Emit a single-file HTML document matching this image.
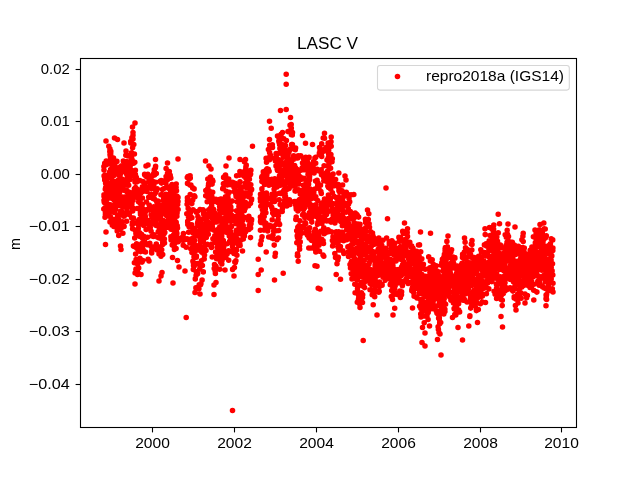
<!DOCTYPE html>
<html><head><meta charset="utf-8"><style>html,body{margin:0;padding:0;background:#fff;overflow:hidden}svg{display:block;will-change:transform}text{font-family:"Liberation Sans",sans-serif;fill:#000}</style></head><body><svg width="640" height="480" viewBox="0 0 640 480" font-family="Liberation Sans, sans-serif"><defs><clipPath id="c"><rect x="80" y="57" width="497" height="371"/></clipPath></defs><rect x="0" y="0" width="640" height="480" fill="#fff"/><g clip-path="url(#c)"><path fill="none" stroke="#f00" stroke-width="5.56" stroke-linecap="round" d="M222.9 205.4h.01M223.3 240.5h.01M146.1 229.5h.01M111.8 177.9h.01M160.5 214.5h.01M164.2 233.5h.01M110.5 157.5h.01M111.0 161.6h.01M251.6 189.4h.01M200.3 239.9h.01M138.5 246.2h.01M168.1 194.8h.01M247.9 218.0h.01M236.6 191.5h.01M228.7 205.0h.01M161.8 239.3h.01M176.7 209.5h.01M203.9 231.3h.01M112.8 184.2h.01M143.9 214.3h.01M233.9 186.9h.01M113.3 166.0h.01M204.3 247.1h.01M232.5 246.6h.01M137.4 271.7h.01M236.3 238.4h.01M232.8 216.9h.01M106.5 178.0h.01M208.4 185.7h.01M104.0 170.0h.01M178.2 241.7h.01M168.4 205.0h.01M133.8 197.0h.01M151.9 216.8h.01M223.1 188.0h.01M150.6 224.6h.01M125.8 155.3h.01M207.1 222.8h.01M170.1 199.6h.01M222.0 260.4h.01M138.6 225.0h.01M151.1 231.3h.01M222.1 212.8h.01M138.7 268.1h.01M105.9 189.8h.01M241.8 207.1h.01M116.5 204.2h.01M228.8 204.5h.01M158.2 231.7h.01M244.5 195.8h.01M162.9 220.2h.01M242.3 221.1h.01M139.3 196.6h.01M213.5 209.4h.01M203.5 213.2h.01M205.0 229.3h.01M172.4 240.6h.01M136.6 243.8h.01M198.6 236.2h.01M119.6 205.5h.01M206.2 229.0h.01M197.8 225.6h.01M159.5 212.8h.01M221.9 231.3h.01M132.5 196.2h.01M161.5 238.2h.01M221.8 263.9h.01M160.1 181.3h.01M209.3 191.1h.01M194.4 229.4h.01M243.0 225.8h.01M250.5 203.3h.01M210.8 207.8h.01M223.4 183.8h.01M126.4 173.7h.01M209.2 200.8h.01M229.2 210.7h.01M163.1 226.8h.01M174.7 243.4h.01M245.6 231.8h.01M150.7 194.4h.01M163.3 200.4h.01M103.9 166.5h.01M165.9 182.9h.01M197.2 263.5h.01M242.1 215.9h.01M240.4 201.8h.01M152.2 216.9h.01M250.1 194.0h.01M131.5 217.7h.01M225.6 175.5h.01M127.0 190.6h.01M163.7 196.4h.01M114.6 208.5h.01M230.7 231.6h.01M226.4 231.3h.01M124.5 199.8h.01M181.8 239.9h.01M142.0 262.1h.01M176.5 190.8h.01M119.5 192.5h.01M231.7 215.2h.01M145.0 214.0h.01M169.9 227.8h.01M112.3 225.3h.01M104.2 201.9h.01M132.7 211.0h.01M154.3 209.4h.01M241.1 192.0h.01M235.4 187.0h.01M174.9 211.5h.01M171.1 240.1h.01M202.5 224.3h.01M230.8 207.0h.01M153.7 213.4h.01M221.2 243.0h.01M162.8 229.0h.01M191.7 224.7h.01M212.9 223.1h.01M178.0 197.4h.01M206.0 250.5h.01M206.9 214.3h.01M104.6 208.2h.01M109.6 207.6h.01M125.8 206.0h.01M135.4 174.6h.01M133.8 144.6h.01M111.0 177.6h.01M135.9 269.5h.01M192.7 187.9h.01M234.9 184.4h.01M155.5 182.3h.01M158.0 201.0h.01M165.4 211.3h.01M220.0 199.4h.01M243.0 209.3h.01M159.4 226.8h.01M208.3 234.2h.01M154.3 194.4h.01M225.7 257.4h.01M137.9 221.1h.01M232.6 239.4h.01M211.1 201.2h.01M182.9 237.1h.01M150.5 177.4h.01M176.9 216.2h.01M111.2 189.5h.01M110.1 155.3h.01M174.4 208.1h.01M227.0 232.4h.01M106.8 176.4h.01M176.4 234.4h.01M192.2 243.2h.01M211.7 205.1h.01M187.1 204.2h.01M176.5 232.0h.01M194.8 232.3h.01M140.5 213.1h.01M203.3 271.9h.01M132.1 174.2h.01M250.3 203.5h.01M214.2 268.5h.01M245.1 208.5h.01M147.3 221.6h.01M169.4 215.6h.01M142.5 216.5h.01M110.7 152.8h.01M106.2 184.6h.01M140.3 203.4h.01M231.2 210.2h.01M128.0 202.1h.01M205.8 190.6h.01M140.7 203.8h.01M113.5 158.0h.01M132.3 207.6h.01M204.1 248.6h.01M178.0 201.5h.01M170.8 194.0h.01M144.4 220.7h.01M176.0 190.7h.01M240.2 199.0h.01M133.6 163.3h.01M212.2 257.0h.01M140.9 192.9h.01M132.4 197.2h.01M151.7 251.0h.01M117.5 226.8h.01M242.2 217.0h.01M157.8 216.7h.01M129.8 199.1h.01M103.8 209.1h.01M112.7 181.1h.01M135.5 223.0h.01M165.6 206.6h.01M192.8 230.6h.01M248.9 229.4h.01M235.5 253.3h.01M139.6 232.8h.01M194.3 195.9h.01M240.1 187.3h.01M118.8 199.7h.01M230.1 203.2h.01M162.4 189.6h.01M151.5 188.6h.01M196.3 212.2h.01M119.2 229.8h.01M216.2 201.6h.01M225.5 175.0h.01M175.2 248.1h.01M161.2 180.6h.01M244.0 176.3h.01M159.2 238.0h.01M233.9 237.2h.01M165.7 208.2h.01M159.0 253.9h.01M157.2 188.7h.01M112.7 195.6h.01M144.8 242.1h.01M137.7 264.3h.01M113.0 160.9h.01M169.2 187.1h.01M107.5 176.8h.01M126.8 164.2h.01M239.7 175.1h.01M123.5 204.8h.01M159.0 208.1h.01M244.4 196.1h.01M120.5 214.8h.01M164.4 239.1h.01M222.3 249.1h.01M106.6 195.0h.01M113.8 223.0h.01M241.4 187.4h.01M205.0 249.3h.01M142.4 186.9h.01M174.8 232.9h.01M140.6 251.6h.01M235.8 194.3h.01M244.3 210.7h.01M114.3 225.0h.01M131.0 175.8h.01M163.6 197.2h.01M213.4 220.7h.01M209.3 229.3h.01M131.9 204.0h.01M152.9 209.9h.01M166.7 221.7h.01M160.9 194.8h.01M204.7 236.4h.01M220.4 240.3h.01M153.4 236.5h.01M169.1 196.4h.01M113.7 197.9h.01M158.0 203.8h.01M243.9 205.2h.01M178.1 209.5h.01M193.4 263.0h.01M187.7 222.6h.01M222.8 221.7h.01M142.2 222.4h.01M150.6 183.4h.01M235.0 183.3h.01M177.7 204.6h.01M245.8 178.0h.01M124.3 200.1h.01M219.6 206.3h.01M173.8 246.3h.01M173.9 223.3h.01M234.1 191.6h.01M123.1 207.2h.01M140.7 198.9h.01M154.5 175.0h.01M224.7 201.6h.01M162.7 254.5h.01M219.8 226.7h.01M105.8 183.7h.01M251.6 199.1h.01M245.1 192.7h.01M204.2 258.9h.01M132.9 200.4h.01M201.0 234.9h.01M131.9 159.0h.01M159.0 246.9h.01M109.0 186.8h.01M114.2 212.5h.01M127.1 166.3h.01M130.7 198.6h.01M227.8 220.7h.01M139.9 245.0h.01M225.9 208.0h.01M104.7 178.5h.01M112.3 169.3h.01M112.8 189.6h.01M241.6 234.2h.01M224.7 177.0h.01M106.1 181.8h.01M241.6 212.0h.01M137.3 189.3h.01M142.9 181.6h.01M190.2 216.3h.01M134.1 191.3h.01M248.0 220.1h.01M158.0 225.1h.01M188.3 201.5h.01M188.5 217.0h.01M145.4 223.5h.01M212.5 200.8h.01M250.6 228.1h.01M191.9 252.5h.01M116.2 197.6h.01M223.3 201.4h.01M202.4 248.4h.01M176.2 206.6h.01M200.6 219.3h.01M142.4 198.1h.01M148.7 197.2h.01M113.9 175.4h.01M190.8 248.7h.01M130.8 143.1h.01M141.3 218.4h.01M236.9 230.9h.01M190.8 218.3h.01M139.9 258.2h.01M207.2 201.8h.01M251.2 190.3h.01M236.6 210.7h.01M153.0 181.6h.01M190.0 185.1h.01M190.3 178.1h.01M116.9 161.4h.01M206.3 237.4h.01M212.9 181.2h.01M115.2 189.0h.01M135.2 179.1h.01M249.9 191.0h.01M148.1 259.2h.01M141.5 234.3h.01M114.4 211.8h.01M150.0 197.1h.01M109.6 174.1h.01M146.5 202.0h.01M141.7 261.6h.01M126.6 221.3h.01M220.9 256.2h.01M246.1 183.3h.01M239.2 226.5h.01M169.0 174.5h.01M113.6 165.5h.01M155.4 167.8h.01M160.0 252.4h.01M211.9 218.0h.01M213.7 230.1h.01M236.4 230.4h.01M173.2 236.0h.01M139.1 194.4h.01M238.6 231.6h.01M234.6 220.2h.01M122.5 187.8h.01M135.1 273.0h.01M201.4 260.7h.01M225.2 226.3h.01M245.8 168.3h.01M106.9 197.3h.01M131.8 207.3h.01M166.4 202.6h.01M218.9 228.5h.01M139.2 219.5h.01M200.0 209.6h.01M189.9 242.9h.01M243.7 196.8h.01M131.9 137.9h.01M122.2 179.4h.01M156.1 220.9h.01M152.0 224.2h.01M170.8 178.1h.01M129.2 213.1h.01M208.3 193.0h.01M225.5 252.4h.01M104.7 175.4h.01M238.4 245.1h.01M117.2 171.9h.01M149.1 225.2h.01M175.7 203.7h.01M166.5 215.6h.01M135.6 254.1h.01M211.7 207.4h.01M227.9 194.7h.01M137.4 197.6h.01M128.2 199.3h.01M125.8 201.0h.01M242.8 231.4h.01M229.7 241.3h.01M227.3 185.0h.01M164.7 197.3h.01M220.2 242.7h.01M161.7 249.7h.01M171.5 199.5h.01M119.5 199.2h.01M109.3 183.1h.01M203.0 209.8h.01M132.4 137.6h.01M245.3 202.4h.01M187.4 197.7h.01M189.1 177.7h.01M236.1 216.2h.01M147.8 187.1h.01M105.4 180.7h.01M136.3 190.1h.01M171.5 220.3h.01M126.3 185.0h.01M145.3 216.5h.01M212.9 238.7h.01M159.5 214.1h.01M154.3 221.0h.01M138.3 251.1h.01M251.0 223.7h.01M128.8 174.1h.01M228.6 250.8h.01M218.4 232.0h.01M192.7 199.9h.01M119.0 221.5h.01M187.9 176.6h.01M250.1 185.1h.01M211.6 193.5h.01M172.8 200.1h.01M169.3 171.5h.01M232.5 182.2h.01M104.7 180.1h.01M133.4 218.0h.01M245.4 183.0h.01M200.5 219.7h.01M226.2 191.3h.01M109.9 148.9h.01M197.0 231.5h.01M116.9 167.7h.01M174.9 241.3h.01M243.2 225.6h.01M113.0 193.9h.01M110.6 207.2h.01M119.0 202.5h.01M235.9 260.7h.01M126.9 191.8h.01M228.7 179.0h.01M136.6 181.9h.01M216.8 255.7h.01M121.2 228.1h.01M174.4 249.4h.01M232.0 238.1h.01M156.3 244.0h.01M221.7 236.4h.01M171.0 237.5h.01M243.3 239.0h.01M163.0 212.6h.01M225.5 196.7h.01M115.0 190.6h.01M153.9 206.8h.01M125.3 170.1h.01M163.5 188.7h.01M163.7 241.5h.01M139.4 197.6h.01M165.8 194.4h.01M204.6 226.0h.01M189.2 179.0h.01M139.8 180.6h.01M209.0 214.5h.01M208.6 183.7h.01M166.2 221.2h.01M171.7 227.1h.01M129.4 168.9h.01M227.3 217.7h.01M156.5 210.9h.01M147.1 244.7h.01M241.2 193.9h.01M149.0 244.7h.01M133.1 208.3h.01M160.4 216.9h.01M194.6 240.7h.01M162.7 244.5h.01M107.2 212.7h.01M240.9 230.3h.01M172.0 196.4h.01M170.2 175.4h.01M169.9 209.0h.01M144.6 174.4h.01M224.3 256.8h.01M170.8 206.3h.01M117.9 189.0h.01M155.6 166.3h.01M175.5 217.3h.01M157.0 210.1h.01M118.9 205.1h.01M235.3 262.4h.01M126.1 204.9h.01M211.6 229.0h.01M166.6 198.1h.01M177.1 212.8h.01M204.0 234.7h.01M106.3 216.0h.01M176.2 222.4h.01M171.7 188.8h.01M167.2 187.6h.01M104.0 200.4h.01M105.4 214.2h.01M176.3 205.8h.01M171.2 189.8h.01M153.3 174.5h.01M121.0 178.6h.01M157.6 237.2h.01M203.3 242.1h.01M225.0 213.5h.01M216.9 252.0h.01M104.0 196.3h.01M153.9 184.5h.01M176.2 184.0h.01M224.2 176.8h.01M187.3 177.6h.01M222.4 226.8h.01M205.7 195.7h.01M114.5 204.8h.01M248.9 175.6h.01M193.1 245.2h.01M142.1 207.8h.01M237.4 239.6h.01M251.5 220.6h.01M154.5 216.6h.01M176.1 248.6h.01M113.1 211.0h.01M199.0 250.0h.01M138.3 228.6h.01M226.5 216.7h.01M241.2 188.1h.01M225.1 231.7h.01M118.7 235.5h.01M138.9 191.1h.01M229.3 236.1h.01M108.5 196.2h.01M123.1 188.8h.01M239.8 243.7h.01M223.7 183.5h.01M141.5 206.0h.01M153.9 234.9h.01M109.4 213.0h.01M122.5 221.7h.01M105.4 178.2h.01M190.6 211.6h.01M194.1 188.9h.01M125.1 214.8h.01M227.1 254.1h.01M175.9 226.0h.01M192.5 227.6h.01M201.8 252.2h.01M134.1 246.5h.01M222.7 252.2h.01M164.6 207.5h.01M177.5 228.1h.01M122.4 197.1h.01M141.5 208.2h.01M171.1 223.0h.01M210.9 214.4h.01M171.5 212.8h.01M215.8 230.2h.01M163.4 205.6h.01M106.1 198.2h.01M186.8 213.8h.01M243.4 206.8h.01M109.4 163.8h.01M172.2 226.3h.01M200.6 242.6h.01M176.1 187.6h.01M119.1 191.9h.01M115.6 208.9h.01M114.2 165.4h.01M153.8 173.3h.01M130.0 167.0h.01M243.5 209.8h.01M135.6 187.5h.01M250.1 174.9h.01M155.5 192.8h.01M227.4 198.7h.01M219.3 249.7h.01M231.8 251.4h.01M228.3 211.3h.01M125.6 196.9h.01M235.6 193.3h.01M121.5 225.1h.01M212.4 180.1h.01M110.6 169.6h.01M148.2 223.8h.01M123.3 161.0h.01M195.7 245.6h.01M150.4 227.3h.01M187.6 203.6h.01M136.1 259.5h.01M162.8 205.1h.01M237.1 201.7h.01M192.2 248.1h.01M175.8 237.3h.01M211.2 247.0h.01M250.6 174.0h.01M153.2 218.6h.01M120.0 167.0h.01M139.4 221.6h.01M126.9 202.4h.01M163.7 233.9h.01M213.6 199.2h.01M217.1 232.4h.01M119.7 175.8h.01M127.8 213.1h.01M157.1 216.6h.01M228.7 260.2h.01M175.4 224.9h.01M146.8 176.9h.01M193.3 210.0h.01M153.5 218.0h.01M192.8 238.3h.01M215.3 216.9h.01M156.2 225.4h.01M171.2 206.1h.01M123.1 201.7h.01M142.2 247.1h.01M109.8 151.6h.01M112.1 164.3h.01M116.2 181.3h.01M236.6 175.7h.01M212.1 184.1h.01M190.4 239.2h.01M129.8 179.7h.01M155.8 222.6h.01M189.9 213.1h.01M230.3 221.3h.01M122.4 213.8h.01M110.3 161.9h.01M109.0 177.6h.01M215.6 252.0h.01M236.1 196.5h.01M125.3 161.7h.01M223.6 177.4h.01M110.0 221.9h.01M227.3 216.0h.01M207.7 188.8h.01M173.8 234.5h.01M174.4 228.0h.01M136.3 177.3h.01M241.5 228.8h.01M144.0 251.5h.01M142.9 260.6h.01M217.9 245.1h.01M189.1 226.7h.01M188.2 208.3h.01M120.1 186.7h.01M119.9 205.6h.01M248.6 205.7h.01M207.8 179.1h.01M194.7 263.9h.01M138.5 201.7h.01M127.0 205.7h.01M190.2 194.6h.01M105.3 189.2h.01M107.9 198.6h.01M154.6 199.3h.01M190.4 216.5h.01M241.3 239.7h.01M170.7 226.0h.01M149.0 209.7h.01M245.0 207.3h.01M147.8 220.3h.01M175.0 239.6h.01M174.4 191.5h.01M110.3 191.9h.01M119.4 175.3h.01M105.0 217.3h.01M221.3 199.1h.01M160.0 181.6h.01M204.5 255.1h.01M169.8 189.3h.01M177.1 196.4h.01M231.6 226.4h.01M162.1 229.2h.01M118.8 219.9h.01M202.7 252.8h.01M108.1 175.0h.01M180.0 238.4h.01M158.3 215.0h.01M166.9 211.4h.01M211.5 247.4h.01M227.9 213.7h.01M246.2 165.4h.01M219.1 215.2h.01M225.1 199.2h.01M242.4 229.1h.01M160.7 233.7h.01M154.6 246.9h.01M107.9 210.9h.01M170.9 236.7h.01M112.1 198.6h.01M135.5 179.1h.01M164.8 202.6h.01M164.7 208.5h.01M216.9 251.7h.01M172.4 236.6h.01M208.3 224.5h.01M107.2 208.2h.01M210.5 177.0h.01M216.4 222.0h.01M105.6 187.9h.01M155.7 210.8h.01M197.9 216.5h.01M124.1 181.2h.01M223.0 244.2h.01M247.7 218.4h.01M219.7 252.3h.01M195.4 232.6h.01M219.7 206.7h.01M242.6 200.7h.01M245.1 230.9h.01M153.0 198.5h.01M199.5 230.3h.01M117.7 215.0h.01M239.2 208.2h.01M112.4 166.4h.01M146.3 210.7h.01M188.6 232.2h.01M136.8 248.2h.01M166.1 227.3h.01M155.7 173.6h.01M202.4 265.6h.01M226.5 202.4h.01M210.4 180.7h.01M106.2 164.7h.01M203.7 230.4h.01M238.4 195.0h.01M123.9 190.2h.01M219.7 235.3h.01M219.9 247.3h.01M116.1 192.2h.01M194.7 236.4h.01M149.8 243.2h.01M158.5 237.7h.01M250.9 170.2h.01M188.2 208.6h.01M174.3 198.6h.01M221.7 235.9h.01M161.6 224.4h.01M122.9 169.2h.01M248.8 216.3h.01M127.7 175.9h.01M237.1 234.6h.01M248.3 229.1h.01M173.1 214.8h.01M121.6 165.8h.01M171.9 227.4h.01M184.1 240.1h.01M220.2 212.2h.01M251.6 219.5h.01M140.0 245.5h.01M108.8 174.8h.01M249.0 184.9h.01M104.1 175.9h.01M246.2 183.3h.01M235.9 237.0h.01M236.9 231.2h.01M163.3 232.5h.01M133.4 246.0h.01M192.2 250.5h.01M167.8 220.5h.01M208.8 209.7h.01M132.2 194.8h.01M173.4 208.8h.01M238.9 206.5h.01M190.9 185.1h.01M241.1 188.9h.01M214.8 235.7h.01M123.7 168.3h.01M199.2 284.7h.01M131.1 170.1h.01M114.4 200.3h.01M193.1 209.7h.01M105.1 195.6h.01M111.6 222.4h.01M161.6 221.9h.01M130.5 161.3h.01M202.1 280.0h.01M144.9 188.4h.01M139.6 235.3h.01M228.9 227.1h.01M225.2 226.8h.01M241.9 203.4h.01M120.2 211.6h.01M112.1 175.7h.01M215.0 242.3h.01M163.0 211.3h.01M111.7 186.7h.01M151.2 246.5h.01M135.4 230.5h.01M202.1 219.1h.01M212.4 201.9h.01M142.3 212.3h.01M202.3 219.1h.01M137.2 208.5h.01M234.8 262.1h.01M162.7 242.7h.01M173.8 210.1h.01M128.6 198.0h.01M172.5 191.1h.01M144.8 183.0h.01M219.7 269.3h.01M123.8 216.3h.01M163.6 243.6h.01M238.8 186.1h.01M200.6 221.9h.01M187.0 238.8h.01M125.4 169.5h.01M119.2 182.8h.01M193.3 269.5h.01M239.9 223.5h.01M115.9 174.0h.01M166.2 187.5h.01M158.5 216.1h.01M107.1 183.4h.01M196.1 275.5h.01M172.3 214.3h.01M175.1 200.8h.01M226.6 214.5h.01M195.9 287.9h.01M139.3 260.7h.01M245.9 166.7h.01M240.5 194.0h.01M206.3 222.6h.01M121.9 212.1h.01M197.4 211.5h.01M104.0 194.7h.01M146.1 209.7h.01M168.1 200.2h.01M172.0 184.5h.01M220.4 218.1h.01M199.6 245.1h.01M170.3 193.3h.01M212.0 197.1h.01M131.5 201.8h.01M236.6 250.1h.01M228.0 197.7h.01M238.8 214.6h.01M244.5 186.2h.01M146.7 189.8h.01M239.1 204.0h.01M223.8 219.1h.01M173.7 194.8h.01M118.3 193.0h.01M248.0 171.9h.01M135.4 170.2h.01M129.4 199.7h.01M231.0 251.4h.01M143.7 236.3h.01M134.7 238.0h.01M219.9 236.1h.01M187.5 183.4h.01M187.8 224.6h.01M191.8 203.6h.01M223.4 248.6h.01M219.2 244.4h.01M143.0 249.4h.01M157.5 248.9h.01M251.5 200.0h.01M227.7 218.2h.01M151.1 214.7h.01M236.9 255.2h.01M145.6 175.7h.01M172.3 207.0h.01M191.6 217.5h.01M217.3 239.9h.01M208.4 222.6h.01M205.4 226.9h.01M134.4 262.8h.01M153.9 188.7h.01M214.7 213.1h.01M189.2 209.7h.01M238.8 218.6h.01M114.2 223.0h.01M249.3 225.3h.01M176.8 214.4h.01M147.5 237.3h.01M118.6 179.7h.01M113.9 221.2h.01M250.5 237.6h.01M220.2 213.2h.01M248.6 196.7h.01M229.1 192.4h.01M167.5 203.0h.01M132.2 224.8h.01M183.2 245.2h.01M139.2 234.3h.01M127.4 203.2h.01M188.2 239.7h.01M249.4 179.2h.01M222.7 199.7h.01M106.5 205.2h.01M129.2 214.4h.01M208.4 227.4h.01M250.1 184.9h.01M173.2 204.9h.01M105.3 194.9h.01M168.2 205.0h.01M231.4 243.1h.01M112.4 187.4h.01M244.4 161.8h.01M246.2 165.0h.01M106.2 201.5h.01M149.2 205.1h.01M132.6 147.8h.01M249.0 177.9h.01M221.9 225.4h.01M143.5 191.3h.01M160.9 249.8h.01M203.7 251.0h.01M107.5 206.1h.01M128.5 206.4h.01M149.0 209.0h.01M138.8 273.6h.01M238.5 219.2h.01M210.4 194.4h.01M230.7 234.5h.01M219.6 253.7h.01M131.1 162.7h.01M206.6 191.1h.01M211.7 182.3h.01M203.6 214.0h.01M220.6 207.2h.01M112.0 170.8h.01M128.2 155.9h.01M234.4 267.6h.01M205.1 231.5h.01M232.1 201.0h.01M112.1 207.8h.01M105.6 175.4h.01M127.1 211.1h.01M110.8 151.4h.01M131.8 207.6h.01M141.8 243.5h.01M114.5 208.3h.01M199.8 225.2h.01M190.3 213.0h.01M205.2 231.7h.01M248.4 175.3h.01M145.5 252.0h.01M139.8 236.5h.01M148.9 181.6h.01M224.2 218.6h.01M200.5 284.8h.01M214.8 267.0h.01M138.7 235.8h.01M123.6 171.4h.01M173.7 208.9h.01M237.5 201.5h.01M142.2 204.5h.01M216.6 258.7h.01M207.7 227.3h.01M158.0 217.0h.01M207.3 244.4h.01M240.0 230.8h.01M135.0 182.1h.01M142.3 198.1h.01M161.5 183.1h.01M133.0 135.3h.01M163.1 232.2h.01M212.1 211.3h.01M230.5 238.0h.01M240.0 208.8h.01M131.4 152.9h.01M206.9 218.1h.01M160.0 218.0h.01M242.3 204.4h.01M132.6 228.7h.01M141.5 203.9h.01M120.8 187.4h.01M171.1 218.8h.01M205.6 228.1h.01M146.9 191.5h.01M236.5 242.1h.01M222.2 256.7h.01M143.9 243.4h.01M193.1 233.0h.01M200.9 283.8h.01M124.0 166.9h.01M199.8 246.3h.01M196.4 256.1h.01M232.6 269.4h.01M147.8 174.4h.01M124.1 226.4h.01M230.7 241.2h.01M121.6 200.1h.01M134.4 154.0h.01M119.3 171.4h.01M249.8 225.3h.01M216.3 235.8h.01M117.5 225.1h.01M229.2 233.8h.01M168.4 214.3h.01M107.4 203.8h.01M112.8 188.9h.01M140.5 214.5h.01M109.5 208.6h.01M128.7 185.3h.01M113.2 174.2h.01M124.7 215.5h.01M118.4 228.4h.01M166.6 227.2h.01M226.0 217.6h.01M113.0 224.9h.01M244.0 217.2h.01M113.6 165.0h.01M105.6 194.2h.01M214.5 264.5h.01M215.9 199.2h.01M144.4 185.4h.01M235.9 223.6h.01M232.7 216.4h.01M110.3 204.7h.01M245.3 194.3h.01M217.5 251.8h.01M230.1 220.7h.01M174.7 216.5h.01M238.6 241.2h.01M236.5 216.7h.01M144.7 220.1h.01M129.1 193.1h.01M199.7 269.0h.01M169.6 221.8h.01M230.9 221.2h.01M170.6 226.0h.01M127.3 177.4h.01M159.3 229.6h.01M246.2 187.5h.01M207.1 196.4h.01M128.6 195.9h.01M131.6 155.2h.01M161.0 256.3h.01M242.9 207.8h.01M143.7 225.4h.01M135.0 195.6h.01M140.4 212.7h.01M183.1 236.3h.01M135.3 177.6h.01M119.5 196.8h.01M225.4 227.8h.01M200.7 242.5h.01M191.9 217.8h.01M141.6 217.1h.01M165.9 212.4h.01M233.9 253.4h.01M142.5 221.0h.01M167.8 200.0h.01M118.3 188.8h.01M161.4 213.5h.01M116.3 182.8h.01M217.8 202.4h.01M251.5 200.0h.01M114.9 167.9h.01M157.1 249.9h.01M244.6 230.6h.01M121.7 170.7h.01M223.7 246.9h.01M120.1 172.3h.01M172.1 206.7h.01M219.7 209.7h.01M220.5 262.0h.01M222.7 188.7h.01M151.7 253.0h.01M122.9 233.2h.01M250.8 184.8h.01M212.3 226.3h.01M161.9 238.2h.01M176.9 233.4h.01M190.1 175.8h.01M156.8 201.9h.01M152.7 182.6h.01M238.0 197.8h.01M127.3 183.3h.01M244.4 235.9h.01M171.9 192.7h.01M173.4 215.4h.01M105.9 212.0h.01M151.9 176.5h.01M171.9 219.6h.01M110.7 153.9h.01M105.6 183.3h.01M104.7 163.4h.01M195.3 278.9h.01M104.8 202.9h.01M244.7 229.3h.01M196.3 257.2h.01M210.1 177.4h.01M110.0 154.6h.01M134.4 188.7h.01M239.9 171.5h.01M156.4 218.6h.01M133.2 208.5h.01M167.4 204.9h.01M151.5 222.4h.01M125.1 180.2h.01M219.1 221.0h.01M135.9 233.5h.01M238.2 222.7h.01M212.7 192.2h.01M231.3 238.9h.01M211.6 215.2h.01M234.7 249.5h.01M245.3 173.1h.01M105.4 212.5h.01M142.0 249.9h.01M237.7 222.4h.01M240.1 245.5h.01M172.2 245.0h.01M154.3 169.8h.01M227.0 243.8h.01M142.7 238.5h.01M164.0 226.6h.01M226.0 179.3h.01M161.5 206.4h.01M200.8 228.4h.01M126.2 196.8h.01M134.8 162.2h.01M248.8 187.4h.01M132.4 222.8h.01M128.1 173.2h.01M106.2 161.1h.01M115.1 219.3h.01M162.9 220.2h.01M194.9 196.8h.01M234.2 243.1h.01M249.9 227.8h.01M156.3 173.6h.01M177.2 225.7h.01M163.3 194.8h.01M172.3 195.3h.01M230.2 184.6h.01M165.0 226.7h.01M213.8 210.0h.01M230.5 220.6h.01M164.2 180.8h.01M154.2 223.8h.01M117.2 230.9h.01M203.4 238.3h.01M222.0 207.4h.01M197.6 273.7h.01M144.6 222.2h.01M207.8 214.9h.01M136.9 193.8h.01M222.8 208.7h.01M243.1 172.1h.01M151.9 236.0h.01M193.2 228.4h.01M171.0 229.3h.01M153.0 223.1h.01M235.7 185.5h.01M150.5 187.8h.01M221.0 203.9h.01M215.2 270.9h.01M120.3 174.3h.01M226.4 197.9h.01M159.3 213.2h.01M158.3 224.7h.01M169.6 175.7h.01M162.9 213.7h.01M166.1 168.5h.01M215.4 273.5h.01M149.8 223.2h.01M127.2 168.0h.01M215.6 231.1h.01M167.3 187.0h.01M183.4 233.6h.01M129.3 192.4h.01M203.6 239.2h.01M194.6 251.6h.01M197.9 264.0h.01M241.5 202.8h.01M114.8 164.4h.01M110.6 217.1h.01M158.1 201.9h.01M198.9 288.7h.01M224.1 205.9h.01M144.8 174.9h.01M236.3 222.0h.01M240.0 181.9h.01M240.0 195.2h.01M168.5 217.5h.01M196.3 271.9h.01M174.2 204.8h.01M113.8 226.5h.01M144.3 251.6h.01M227.7 180.0h.01M130.6 164.8h.01M169.6 211.2h.01M203.6 210.7h.01M164.8 232.4h.01M190.1 201.9h.01M187.4 200.7h.01M122.8 182.4h.01M109.6 172.0h.01M197.6 222.9h.01M186.2 247.2h.01M248.0 195.0h.01M126.4 171.3h.01M116.6 187.2h.01M227.3 209.9h.01M235.7 234.3h.01M247.2 174.0h.01M235.9 239.6h.01M162.6 223.6h.01M187.7 221.2h.01M198.1 220.8h.01M188.2 213.4h.01M165.9 225.3h.01M226.1 203.0h.01M217.9 248.1h.01M108.4 213.0h.01M239.1 217.4h.01M166.1 176.5h.01M211.9 244.0h.01M247.3 172.3h.01M200.0 230.4h.01M142.8 250.5h.01M193.5 265.6h.01M167.5 173.4h.01M130.7 141.5h.01M126.4 161.5h.01M217.2 247.3h.01M167.4 179.8h.01M168.7 202.1h.01M156.6 190.4h.01M194.1 266.3h.01M196.5 250.2h.01M148.7 222.0h.01M192.9 261.2h.01M117.9 173.1h.01M231.2 218.2h.01M194.0 256.9h.01M175.3 205.7h.01M164.5 243.1h.01M225.8 222.4h.01M159.6 251.5h.01M216.0 266.4h.01M105.6 189.2h.01M302.5 163.0h.01M262.0 236.8h.01M297.7 172.3h.01M492.0 273.4h.01M441.7 297.5h.01M523.9 253.5h.01M413.5 292.5h.01M378.6 272.1h.01M353.9 256.1h.01M549.6 272.3h.01M501.3 283.6h.01M425.8 296.4h.01M420.7 314.0h.01M485.8 286.6h.01M528.5 280.5h.01M337.9 238.6h.01M406.3 255.1h.01M540.6 257.0h.01M552.8 250.6h.01M361.4 265.3h.01M542.9 258.5h.01M279.5 175.7h.01M439.3 318.9h.01M320.9 210.1h.01M280.8 171.6h.01M463.7 280.2h.01M275.6 184.0h.01M432.1 293.4h.01M432.4 308.6h.01M549.1 279.6h.01M436.2 265.7h.01M526.0 277.0h.01M393.8 292.8h.01M500.1 290.1h.01M315.0 189.0h.01M280.2 204.6h.01M441.5 307.2h.01M419.5 244.9h.01M490.2 259.2h.01M492.9 262.7h.01M420.5 269.5h.01M501.7 264.8h.01M306.4 187.2h.01M339.7 192.1h.01M497.7 262.2h.01M452.5 286.3h.01M303.7 204.1h.01M408.9 282.2h.01M393.7 247.7h.01M429.1 309.7h.01M364.0 264.9h.01M551.2 267.4h.01M528.4 277.0h.01M263.0 212.0h.01M313.5 239.7h.01M410.4 269.1h.01M493.7 256.8h.01M319.0 170.9h.01M413.0 253.8h.01M362.6 276.1h.01M458.6 280.9h.01M262.6 180.0h.01M545.0 255.3h.01M352.1 239.9h.01M415.2 261.4h.01M364.9 280.6h.01M312.9 163.3h.01M514.2 297.9h.01M510.5 265.3h.01M278.2 159.6h.01M475.1 270.4h.01M356.1 264.6h.01M350.3 211.5h.01M322.7 220.1h.01M361.0 267.6h.01M463.0 255.1h.01M456.7 273.1h.01M480.4 289.2h.01M282.4 208.4h.01M457.1 309.7h.01M312.7 163.6h.01M429.3 301.9h.01M495.5 274.6h.01M309.1 178.2h.01M454.3 291.6h.01M520.6 281.6h.01M265.7 206.1h.01M539.6 252.3h.01M298.6 189.7h.01M347.6 194.3h.01M357.3 215.4h.01M290.2 167.2h.01M335.6 179.5h.01M392.5 299.5h.01M443.6 290.6h.01M520.5 265.1h.01M495.9 291.9h.01M386.8 278.4h.01M491.0 240.1h.01M514.2 296.8h.01M378.1 257.7h.01M317.7 185.6h.01M320.8 212.3h.01M498.2 232.9h.01M355.4 240.1h.01M328.5 149.1h.01M454.2 294.7h.01M430.1 290.2h.01M261.6 197.3h.01M493.7 245.6h.01M489.6 257.5h.01M293.8 180.5h.01M261.9 188.9h.01M426.3 284.0h.01M291.1 132.0h.01M530.7 277.0h.01M261.7 177.4h.01M320.0 150.5h.01M282.7 173.0h.01M380.4 257.9h.01M428.2 312.5h.01M501.9 260.5h.01M337.7 205.6h.01M498.7 252.5h.01M358.7 233.1h.01M414.1 277.0h.01M264.5 204.0h.01M389.3 242.0h.01M315.6 198.6h.01M287.1 203.5h.01M542.2 238.5h.01M275.9 211.5h.01M272.7 213.0h.01M404.7 252.2h.01M350.0 264.6h.01M360.4 259.9h.01M390.1 259.3h.01M515.9 299.1h.01M363.7 286.7h.01M388.3 275.8h.01M415.9 279.1h.01M283.6 174.9h.01M393.9 254.1h.01M296.2 208.4h.01M360.5 260.5h.01M462.1 266.2h.01M415.3 276.6h.01M458.8 287.4h.01M267.4 229.7h.01M417.1 260.7h.01M342.4 215.7h.01M456.5 281.9h.01M458.0 289.8h.01M301.6 179.3h.01M521.2 268.5h.01M521.9 239.7h.01M262.0 176.5h.01M361.2 229.1h.01M300.9 203.5h.01M536.2 239.7h.01M472.2 269.1h.01M337.9 235.3h.01M496.7 274.1h.01M524.5 284.5h.01M527.1 274.4h.01M294.4 201.5h.01M358.6 299.0h.01M526.6 297.7h.01M352.9 230.6h.01M362.6 272.8h.01M456.2 286.2h.01M391.3 248.6h.01M474.7 284.0h.01M350.4 245.9h.01M341.1 200.3h.01M372.2 294.8h.01M328.5 161.6h.01M430.3 285.4h.01M287.9 151.0h.01M363.3 246.8h.01M337.5 206.9h.01M305.6 198.2h.01M407.5 236.4h.01M487.6 283.0h.01M481.5 252.1h.01M473.1 258.1h.01M466.8 285.0h.01M302.2 167.9h.01M390.1 241.8h.01M522.8 265.6h.01M532.1 264.6h.01M314.9 249.1h.01M483.7 268.4h.01M308.4 216.1h.01M296.1 207.1h.01M303.5 209.4h.01M510.5 254.9h.01M396.2 279.8h.01M513.4 281.7h.01M305.7 157.4h.01M520.0 247.5h.01M373.1 292.7h.01M534.5 261.4h.01M334.4 183.5h.01M475.3 305.7h.01M272.3 144.8h.01M479.2 296.3h.01M528.7 277.4h.01M515.9 261.2h.01M423.2 316.0h.01M390.8 283.1h.01M416.0 267.6h.01M490.5 250.2h.01M549.3 282.1h.01M321.2 204.2h.01M545.8 246.3h.01M470.7 308.1h.01M374.8 252.2h.01M546.0 272.6h.01M385.5 272.2h.01M496.8 255.2h.01M475.5 296.0h.01M313.6 164.8h.01M432.2 259.7h.01M317.3 215.9h.01M439.1 293.9h.01M274.6 201.4h.01M297.0 205.1h.01M542.4 259.2h.01M434.8 297.5h.01M459.0 275.8h.01M448.3 266.5h.01M365.5 253.3h.01M469.9 282.1h.01M368.9 275.0h.01M506.1 245.3h.01M270.1 155.8h.01M375.2 240.4h.01M396.8 278.2h.01M280.1 138.6h.01M526.3 276.4h.01M545.5 263.0h.01M449.3 257.2h.01M397.1 283.3h.01M328.5 166.3h.01M394.4 293.6h.01M420.7 267.4h.01M294.1 157.1h.01M441.8 262.7h.01M484.0 288.2h.01M260.4 244.4h.01M542.4 233.4h.01M542.1 252.1h.01M518.6 270.8h.01M260.4 230.3h.01M465.2 267.2h.01M548.0 261.1h.01M518.3 252.2h.01M290.0 204.5h.01M440.7 310.8h.01M378.8 238.1h.01M467.4 249.5h.01M441.7 296.1h.01M309.2 203.3h.01M445.6 272.3h.01M503.0 265.8h.01M389.3 244.1h.01M287.6 167.4h.01M431.8 272.5h.01M534.4 267.6h.01M323.8 180.7h.01M354.5 236.7h.01M283.4 151.3h.01M296.3 209.2h.01M379.8 274.6h.01M528.5 265.9h.01M532.9 262.4h.01M500.4 245.1h.01M439.7 283.6h.01M524.5 267.1h.01M289.7 159.7h.01M385.2 280.3h.01M443.2 291.6h.01M382.9 265.2h.01M356.8 214.5h.01M495.3 276.5h.01M507.7 246.0h.01M504.9 262.1h.01M421.0 303.5h.01M375.5 281.0h.01M476.7 295.2h.01M448.3 276.7h.01M440.5 293.2h.01M542.8 250.4h.01M263.3 205.3h.01M333.1 174.0h.01M320.1 241.5h.01M543.4 250.8h.01M469.1 276.2h.01M365.5 244.0h.01M406.0 279.2h.01M549.5 245.0h.01M533.9 284.2h.01M321.2 240.2h.01M528.2 261.0h.01M467.1 289.1h.01M512.0 270.6h.01M389.4 242.9h.01M357.3 262.8h.01M441.6 283.8h.01M308.5 180.1h.01M489.6 256.3h.01M445.6 304.2h.01M443.1 305.3h.01M278.6 137.1h.01M497.5 244.1h.01M461.8 285.4h.01M397.8 270.1h.01M544.8 262.6h.01M498.8 281.1h.01M389.2 266.0h.01M322.8 219.3h.01M450.5 269.0h.01M276.0 165.9h.01M352.8 255.6h.01M467.3 275.5h.01M308.0 174.6h.01M383.1 252.7h.01M440.3 297.2h.01M520.0 254.5h.01M491.2 244.6h.01M476.5 271.3h.01M394.6 288.4h.01M443.2 280.9h.01M312.8 207.2h.01M311.8 168.3h.01M401.6 251.6h.01M348.3 219.9h.01M459.5 298.8h.01M468.7 277.4h.01M444.5 273.8h.01M527.8 254.3h.01M424.7 288.3h.01M266.4 158.8h.01M321.9 223.5h.01M527.4 295.6h.01M469.5 253.1h.01M484.5 275.9h.01M321.7 143.9h.01M401.0 275.8h.01M491.1 273.2h.01M531.4 286.7h.01M542.3 286.6h.01M454.8 285.4h.01M351.4 217.5h.01M343.9 193.6h.01M503.7 276.5h.01M461.1 290.9h.01M489.1 248.6h.01M263.9 221.2h.01M327.8 170.8h.01M421.8 284.1h.01M530.3 281.3h.01M542.5 252.5h.01M529.8 258.3h.01M396.0 248.1h.01M273.3 211.5h.01M523.3 266.4h.01M505.1 279.1h.01M549.9 252.5h.01M358.6 248.6h.01M499.6 257.2h.01M352.1 265.9h.01M336.3 231.8h.01M362.5 297.5h.01M449.7 252.5h.01M415.0 282.6h.01M384.3 277.6h.01M435.0 296.6h.01M273.8 214.7h.01M429.4 278.2h.01M328.2 158.0h.01M478.8 265.5h.01M420.8 283.5h.01M525.0 294.1h.01M529.3 276.8h.01M301.7 207.7h.01M505.5 287.4h.01M526.5 280.7h.01M317.5 232.2h.01M299.0 225.9h.01M405.9 251.6h.01M459.3 284.7h.01M515.4 305.5h.01M478.6 275.7h.01M354.8 249.6h.01M549.9 278.4h.01M350.8 214.6h.01M307.7 186.5h.01M453.5 264.9h.01M408.9 263.1h.01M415.4 263.6h.01M435.0 275.3h.01M485.4 281.8h.01M328.0 229.8h.01M406.8 253.6h.01M495.5 242.7h.01M499.4 262.4h.01M354.0 217.9h.01M374.1 275.1h.01M417.0 297.9h.01M519.3 285.3h.01M386.8 259.3h.01M432.6 299.7h.01M286.8 205.9h.01M295.8 219.4h.01M532.8 251.6h.01M297.4 184.1h.01M461.1 267.8h.01M287.6 179.3h.01M546.8 267.0h.01M454.7 302.6h.01M477.0 303.3h.01M341.2 240.0h.01M487.1 256.0h.01M507.9 240.3h.01M464.3 299.2h.01M352.6 269.2h.01M321.7 239.4h.01M369.5 227.3h.01M455.2 279.8h.01M370.1 283.5h.01M469.4 274.2h.01M480.6 285.3h.01M392.1 271.9h.01M379.9 260.5h.01M315.6 204.8h.01M438.6 318.2h.01M409.0 260.7h.01M303.7 189.9h.01M355.2 223.6h.01M341.5 232.3h.01M315.3 229.4h.01M520.8 269.1h.01M274.2 245.1h.01M305.7 223.4h.01M269.6 152.5h.01M264.2 216.6h.01M288.7 176.6h.01M298.8 184.0h.01M544.0 260.2h.01M413.8 274.0h.01M540.2 253.8h.01M297.7 158.0h.01M349.2 211.2h.01M482.4 296.0h.01M375.1 265.8h.01M418.6 267.0h.01M515.1 248.5h.01M420.7 289.7h.01M435.5 292.1h.01M435.3 293.1h.01M285.5 171.4h.01M271.7 157.7h.01M302.9 196.0h.01M504.4 247.8h.01M350.0 229.2h.01M296.1 181.6h.01M502.5 280.9h.01M504.9 290.9h.01M275.9 157.5h.01M508.5 236.5h.01M466.6 282.4h.01M462.6 254.4h.01M279.1 167.2h.01M414.3 259.4h.01M550.4 268.0h.01M448.0 254.1h.01M378.9 273.2h.01M471.2 285.6h.01M459.4 291.8h.01M433.1 296.4h.01M513.2 247.6h.01M552.8 275.1h.01M463.3 266.0h.01M353.5 271.1h.01M357.1 233.6h.01M285.1 193.7h.01M388.4 254.0h.01M549.1 290.2h.01M349.8 234.9h.01M517.2 267.1h.01M538.9 236.0h.01M516.1 266.0h.01M516.0 282.3h.01M262.6 214.5h.01M382.7 253.9h.01M481.5 281.7h.01M503.7 253.8h.01M400.5 259.0h.01M492.5 229.6h.01M288.8 152.6h.01M405.3 264.9h.01M369.2 263.1h.01M374.4 244.3h.01M432.5 290.0h.01M346.5 194.1h.01M507.2 269.3h.01M355.1 292.7h.01M409.8 242.2h.01M544.3 228.9h.01M361.0 282.5h.01M278.5 212.6h.01M374.7 296.8h.01M303.4 169.7h.01M368.2 278.8h.01M410.3 273.0h.01M402.6 264.9h.01M539.8 262.1h.01M526.8 275.6h.01M328.8 152.9h.01M298.2 155.7h.01M338.4 214.7h.01M272.2 226.5h.01M386.3 257.8h.01M287.6 188.7h.01M321.3 208.4h.01M262.8 193.4h.01M344.9 205.8h.01M415.7 277.0h.01M428.4 276.9h.01M392.7 286.0h.01M264.0 230.1h.01M467.6 266.2h.01M490.5 249.5h.01M265.0 174.4h.01M424.7 316.0h.01M338.9 190.7h.01M466.7 278.3h.01M471.5 300.1h.01M423.3 264.8h.01M262.0 193.6h.01M323.2 138.0h.01M353.8 256.3h.01M416.2 275.6h.01M296.7 230.7h.01M318.0 183.1h.01M278.4 215.7h.01M445.2 273.1h.01M279.2 199.8h.01M297.4 255.8h.01M343.3 217.5h.01M512.9 260.4h.01M449.6 273.5h.01M432.4 290.0h.01M541.3 250.4h.01M493.1 258.9h.01M383.1 277.3h.01M465.8 292.5h.01M335.3 242.3h.01M416.3 280.9h.01M386.3 273.8h.01M436.1 310.7h.01M533.7 254.2h.01M471.8 250.0h.01M408.7 270.3h.01M381.1 248.1h.01M284.8 197.3h.01M448.8 266.0h.01M374.4 292.5h.01M343.3 213.0h.01M450.9 300.3h.01M363.2 249.8h.01M547.8 270.4h.01M261.2 240.5h.01M539.2 260.7h.01M328.1 143.0h.01M269.6 225.2h.01M384.3 270.3h.01M366.2 237.8h.01M379.5 282.1h.01M509.9 279.3h.01M353.8 232.0h.01M523.1 270.3h.01M429.6 280.8h.01M460.4 269.6h.01M544.8 247.1h.01M401.9 241.1h.01M493.4 272.6h.01M507.2 230.2h.01M482.3 284.4h.01M479.4 280.7h.01M320.5 185.3h.01M327.0 179.0h.01M414.1 261.6h.01M382.7 247.9h.01M339.9 235.2h.01M408.6 265.1h.01M395.2 285.7h.01M499.9 265.9h.01M432.1 298.7h.01M344.7 205.4h.01M308.7 191.5h.01M336.5 203.3h.01M265.8 173.3h.01M511.7 276.0h.01M404.5 269.9h.01M484.1 282.7h.01M510.8 272.0h.01M429.5 306.4h.01M405.6 280.2h.01M313.2 209.3h.01M506.1 270.4h.01M465.1 279.8h.01M369.7 257.5h.01M532.3 264.0h.01M378.2 258.4h.01M546.1 295.0h.01M283.2 156.8h.01M305.9 229.4h.01M377.6 240.4h.01M456.8 293.0h.01M549.4 259.5h.01M420.6 266.9h.01M437.9 292.8h.01M411.9 268.7h.01M517.4 262.8h.01M385.8 248.3h.01M524.3 248.1h.01M455.0 268.3h.01M497.2 253.7h.01M347.9 230.3h.01M340.1 202.4h.01M432.8 286.6h.01M382.9 240.3h.01M450.6 263.5h.01M309.4 238.3h.01M372.5 258.1h.01M304.6 184.7h.01M345.4 238.5h.01M401.3 247.5h.01M446.5 263.8h.01M476.4 288.1h.01M353.1 269.0h.01M297.8 227.3h.01M405.6 274.2h.01M292.4 144.5h.01M358.6 217.1h.01M496.3 268.0h.01M339.5 248.4h.01M519.4 262.0h.01M399.2 241.5h.01M372.1 274.9h.01M474.4 280.2h.01M273.0 235.1h.01M393.1 269.2h.01M541.8 234.7h.01M478.6 256.4h.01M486.8 244.8h.01M429.0 290.3h.01M307.1 191.9h.01M334.8 253.5h.01M526.1 267.7h.01M439.2 298.0h.01M490.4 228.0h.01M438.2 288.2h.01M303.4 189.8h.01M542.2 285.9h.01M462.5 257.5h.01M327.8 186.0h.01M456.0 279.5h.01M391.4 253.2h.01M317.1 180.3h.01M424.1 283.0h.01M458.2 269.1h.01M276.5 157.8h.01M265.2 225.6h.01M405.7 266.5h.01M349.0 198.6h.01M499.7 269.4h.01M330.6 168.2h.01M354.0 249.9h.01M265.2 200.2h.01M464.7 283.1h.01M514.6 282.2h.01M528.1 285.5h.01M403.4 256.6h.01M288.2 162.8h.01M470.2 251.1h.01M385.4 274.0h.01M317.5 224.2h.01M398.4 269.6h.01M278.9 153.3h.01M531.7 262.7h.01M503.6 265.1h.01M501.0 316.5h.01M311.8 222.1h.01M346.3 192.2h.01M421.9 286.2h.01M520.4 271.1h.01M331.7 183.1h.01M454.8 257.5h.01M457.4 266.1h.01M552.7 239.9h.01M448.0 254.8h.01M299.5 246.0h.01M506.7 255.0h.01M515.0 264.9h.01M405.6 272.7h.01M411.7 258.2h.01M291.7 164.9h.01M446.7 271.5h.01M419.6 263.5h.01M283.4 164.8h.01M260.7 220.2h.01M395.6 258.3h.01M304.8 217.4h.01M551.1 251.8h.01M443.1 307.3h.01M263.8 204.5h.01M337.5 210.9h.01M272.5 209.6h.01M551.2 279.1h.01M471.5 294.0h.01M457.4 285.4h.01M549.6 290.4h.01M333.2 242.2h.01M305.2 184.6h.01M350.1 229.2h.01M524.9 281.2h.01M289.4 199.9h.01M461.6 279.7h.01M548.8 282.9h.01M289.9 203.4h.01M282.4 154.0h.01M300.2 230.9h.01M406.5 264.5h.01M327.0 203.5h.01M281.8 150.8h.01M448.8 276.6h.01M431.7 289.8h.01M343.9 224.0h.01M282.2 144.6h.01M286.9 174.4h.01M360.5 257.5h.01M367.0 246.7h.01M535.6 275.3h.01M490.9 265.0h.01M358.1 252.5h.01M391.1 241.2h.01M419.1 256.0h.01M296.4 180.5h.01M409.5 268.3h.01M277.0 186.9h.01M528.4 266.7h.01M297.0 176.1h.01M402.4 285.7h.01M302.9 226.3h.01M514.5 277.5h.01M333.7 220.1h.01M338.0 247.1h.01M351.3 245.5h.01M507.0 242.3h.01M382.2 269.6h.01M384.9 268.5h.01M304.0 203.4h.01M346.5 212.1h.01M470.0 301.9h.01M427.1 284.5h.01M317.1 235.3h.01M520.6 258.8h.01M365.4 255.0h.01M494.0 273.9h.01M499.6 283.9h.01M511.4 252.2h.01M423.1 278.9h.01M540.5 242.5h.01M461.7 284.5h.01M390.1 251.7h.01M465.3 273.2h.01M519.6 265.1h.01M551.5 250.9h.01M289.5 149.9h.01M272.9 180.2h.01M428.7 256.9h.01M452.9 282.0h.01M276.0 230.8h.01M541.4 236.8h.01M408.4 257.3h.01M378.7 292.2h.01M395.5 292.7h.01M351.0 262.7h.01M547.8 278.3h.01M506.9 244.8h.01M390.8 274.8h.01M345.3 224.0h.01M350.9 218.7h.01M463.3 273.5h.01M427.0 315.8h.01M365.4 219.3h.01M513.1 260.3h.01M315.8 196.7h.01M449.6 252.5h.01M487.0 254.0h.01M399.2 257.4h.01M445.2 259.5h.01M309.1 168.1h.01M365.0 235.9h.01M487.6 276.3h.01M531.1 255.9h.01M277.3 211.6h.01M439.7 323.7h.01M380.3 284.4h.01M447.7 278.5h.01M307.8 234.6h.01M442.1 303.2h.01M450.3 281.6h.01M304.9 222.6h.01M479.7 289.8h.01M342.0 190.7h.01M436.5 270.8h.01M457.2 290.7h.01M449.8 292.3h.01M335.2 221.7h.01M417.7 261.0h.01M532.4 266.3h.01M509.5 259.3h.01M468.6 265.8h.01M456.9 274.2h.01M351.3 252.1h.01M328.7 150.1h.01M485.9 264.0h.01M403.4 261.6h.01M355.0 224.1h.01M520.5 282.9h.01M439.3 317.8h.01M516.9 277.6h.01M280.2 139.7h.01M319.4 153.1h.01M271.7 207.2h.01M438.4 329.5h.01M479.3 268.3h.01M354.2 222.7h.01M321.4 205.0h.01M428.4 290.7h.01M504.7 262.2h.01M500.6 263.7h.01M550.3 266.3h.01M385.7 262.4h.01M365.2 249.7h.01M415.5 288.3h.01M295.1 171.2h.01M502.9 255.8h.01M363.7 274.0h.01M310.9 239.5h.01M340.8 207.3h.01M462.8 297.6h.01M338.7 231.8h.01M456.3 286.3h.01M311.3 189.8h.01M406.9 241.4h.01M266.5 162.3h.01M261.9 221.9h.01M494.8 247.8h.01M357.4 279.5h.01M489.8 270.9h.01M321.5 174.7h.01M381.6 270.1h.01M543.7 251.5h.01M262.1 222.6h.01M521.9 269.5h.01M492.3 263.9h.01M526.1 282.4h.01M281.7 173.6h.01M509.3 276.5h.01M310.2 189.0h.01M404.7 264.7h.01M295.2 185.7h.01M548.2 269.1h.01M343.6 240.7h.01M531.4 272.5h.01M459.6 311.9h.01M416.6 251.3h.01M359.4 285.5h.01M464.0 286.3h.01M449.9 276.4h.01M539.4 229.9h.01M534.4 263.1h.01M455.4 284.1h.01M502.3 247.9h.01M454.1 308.6h.01M315.7 157.3h.01M446.8 284.6h.01M282.3 193.5h.01M285.6 162.6h.01M448.6 280.8h.01M415.4 274.1h.01M279.5 135.7h.01M302.9 193.8h.01M333.4 203.8h.01M420.9 288.0h.01M526.2 262.2h.01M488.2 277.8h.01M511.9 260.2h.01M358.4 299.7h.01M366.3 221.2h.01M284.5 200.7h.01M509.5 260.6h.01M383.1 267.7h.01M510.9 259.5h.01M538.9 269.0h.01M296.2 217.0h.01M427.6 285.0h.01M318.7 235.2h.01M493.1 261.4h.01M453.8 264.1h.01M471.9 257.3h.01M496.3 284.1h.01M307.1 193.9h.01M482.7 262.9h.01M423.4 264.2h.01M332.4 240.6h.01M397.0 250.6h.01M536.2 268.4h.01M418.4 273.6h.01M333.0 236.7h.01M303.4 185.3h.01M393.9 260.6h.01M500.3 289.8h.01M357.7 242.9h.01M517.6 282.3h.01M422.0 280.1h.01M435.1 307.1h.01M536.6 255.4h.01M464.9 259.0h.01M461.9 277.6h.01M402.2 268.8h.01M482.4 302.0h.01M517.8 267.8h.01M338.5 197.1h.01M453.6 263.3h.01M297.9 210.9h.01M321.3 193.5h.01M310.3 237.6h.01M525.3 274.3h.01M295.1 190.9h.01M495.7 261.8h.01M262.3 217.1h.01M413.1 260.4h.01M283.0 181.5h.01M360.7 266.5h.01M460.8 288.9h.01M332.5 208.9h.01M348.3 208.9h.01M292.7 179.0h.01M298.0 181.3h.01M468.6 272.8h.01M532.8 277.0h.01M408.0 254.9h.01M483.9 282.0h.01M331.8 178.0h.01M476.0 260.7h.01M490.9 242.3h.01M324.5 199.0h.01M540.4 235.0h.01M429.9 294.4h.01M343.2 239.2h.01M272.2 219.8h.01M327.7 173.3h.01M459.7 287.6h.01M427.6 313.0h.01M299.6 249.3h.01M543.0 241.8h.01M541.9 270.2h.01M530.5 254.7h.01M543.8 261.9h.01M541.0 251.0h.01M370.6 231.9h.01M355.3 224.1h.01M431.0 279.1h.01M371.5 253.1h.01M468.5 288.9h.01M539.6 279.7h.01M494.1 256.3h.01M267.1 168.8h.01M390.7 273.3h.01M506.4 258.0h.01M273.5 184.5h.01M330.7 189.2h.01M342.7 221.8h.01M292.3 135.0h.01M422.3 309.5h.01M533.6 258.9h.01M501.9 291.7h.01M407.2 232.5h.01M370.6 250.4h.01M511.4 277.4h.01M470.3 295.2h.01M311.6 171.5h.01M421.8 283.5h.01M338.8 250.0h.01M551.8 255.9h.01M357.1 248.9h.01M412.3 288.0h.01M523.1 280.8h.01M456.6 291.8h.01M493.0 228.7h.01M344.9 194.6h.01M467.5 274.9h.01M405.6 240.6h.01M365.7 253.1h.01M486.2 275.2h.01M369.4 239.7h.01M444.0 269.9h.01M373.9 256.2h.01M354.8 262.5h.01M342.5 199.3h.01M318.9 245.2h.01M500.1 257.1h.01M390.5 264.5h.01M442.6 262.7h.01M473.7 259.2h.01M316.9 181.5h.01M412.6 284.1h.01M494.2 260.4h.01M326.1 206.4h.01M418.0 276.2h.01M366.4 270.0h.01M513.9 269.7h.01M430.5 275.8h.01M290.7 149.3h.01M388.5 271.6h.01M264.6 182.5h.01M499.0 265.1h.01M386.4 275.6h.01M418.1 270.7h.01M520.7 292.8h.01M352.0 278.9h.01M264.6 195.6h.01M543.0 258.8h.01M552.3 288.8h.01M467.5 284.2h.01M454.7 278.2h.01M266.4 202.8h.01M323.8 228.3h.01M293.6 173.5h.01M392.5 276.8h.01M384.9 254.3h.01M292.4 166.7h.01M378.1 267.1h.01M539.7 252.7h.01M416.0 275.2h.01M283.8 175.2h.01M423.6 294.1h.01M473.6 291.4h.01M461.5 279.6h.01M358.6 298.5h.01M492.9 238.5h.01M525.1 278.6h.01M375.3 260.1h.01M469.7 253.9h.01M356.1 250.4h.01M394.0 255.0h.01M534.6 270.9h.01M378.1 284.9h.01M279.3 137.1h.01M515.6 277.7h.01M521.8 267.6h.01M510.0 267.5h.01M371.5 274.3h.01M474.5 290.0h.01M282.2 211.4h.01M483.7 282.8h.01M373.1 256.6h.01M293.7 155.9h.01M442.9 271.1h.01M326.7 208.6h.01M456.9 286.0h.01M278.8 181.3h.01M327.2 211.1h.01M420.1 260.4h.01M287.8 189.1h.01M546.2 276.4h.01M528.9 268.8h.01M443.8 308.4h.01M514.6 275.4h.01M476.6 282.6h.01M421.9 274.6h.01M284.9 193.0h.01M420.7 263.6h.01M481.8 286.4h.01M399.3 277.3h.01M266.3 169.9h.01M293.5 158.2h.01M458.5 276.6h.01M514.6 277.3h.01M484.2 275.9h.01M297.5 235.0h.01M367.7 265.8h.01M265.9 223.3h.01M545.9 275.6h.01M382.1 285.2h.01M379.2 291.4h.01M472.8 272.8h.01M526.3 279.8h.01M265.9 212.7h.01M531.8 270.8h.01M433.5 298.9h.01M324.7 151.0h.01M436.1 272.4h.01M350.0 234.7h.01M340.7 221.6h.01M353.1 252.1h.01M458.7 310.1h.01M493.2 278.6h.01M501.9 289.2h.01M310.7 204.8h.01M469.1 262.7h.01M453.2 257.0h.01M440.7 322.5h.01M518.4 246.4h.01M302.2 190.5h.01M547.6 249.8h.01M455.4 278.0h.01M488.9 256.7h.01M395.8 275.3h.01M493.1 263.2h.01M353.7 278.0h.01M450.1 252.5h.01M437.5 312.9h.01M530.9 259.7h.01M295.3 149.7h.01M466.6 267.3h.01M512.9 263.0h.01M268.4 179.3h.01M529.8 270.9h.01M503.7 261.0h.01M531.6 281.3h.01M455.3 299.8h.01M509.7 267.3h.01M471.6 266.4h.01M333.9 196.2h.01M405.7 249.3h.01M286.4 140.5h.01M285.5 196.6h.01M543.3 247.9h.01M400.6 271.8h.01M515.5 279.0h.01M443.8 314.0h.01M415.7 282.5h.01M315.5 216.2h.01M451.8 284.3h.01M549.6 247.9h.01M478.3 309.6h.01M323.9 230.1h.01M546.3 296.8h.01M424.2 322.7h.01M317.7 200.5h.01M351.1 251.8h.01M313.6 240.2h.01M389.1 262.4h.01M393.2 292.0h.01M369.8 271.1h.01M296.8 242.8h.01M529.0 280.9h.01M340.8 234.2h.01M306.2 228.8h.01M285.7 173.6h.01M533.4 236.7h.01M380.3 268.5h.01M289.1 188.4h.01M544.7 236.8h.01M356.0 274.8h.01M368.3 219.5h.01M531.9 274.6h.01M302.6 215.0h.01M470.5 254.4h.01M497.9 278.7h.01M552.4 249.1h.01M399.2 258.0h.01M265.0 212.0h.01M355.2 259.4h.01M480.5 259.1h.01M417.5 284.7h.01M336.3 212.7h.01M380.4 257.7h.01M490.4 246.5h.01M411.4 251.8h.01M365.1 272.5h.01M352.7 233.5h.01M545.2 229.0h.01M402.7 231.4h.01M419.6 306.2h.01M499.5 255.6h.01M465.7 256.8h.01M445.8 282.6h.01M399.1 269.5h.01M501.9 294.1h.01M482.7 268.1h.01M368.3 269.2h.01M545.4 252.9h.01M321.2 169.9h.01M279.4 179.0h.01M286.8 153.3h.01M549.9 248.6h.01M487.3 252.7h.01M326.7 221.0h.01M337.3 209.9h.01M370.5 275.9h.01M358.9 226.4h.01M530.5 283.0h.01M512.1 275.4h.01M303.5 193.1h.01M325.2 219.5h.01M456.6 302.9h.01M324.5 212.9h.01M512.3 266.4h.01M441.7 289.6h.01M301.1 233.4h.01M454.5 287.0h.01M444.9 309.2h.01M512.3 242.4h.01M446.3 285.2h.01M522.8 270.8h.01M361.4 282.9h.01M289.3 150.8h.01M442.4 289.4h.01M277.5 181.8h.01M492.8 267.3h.01M550.4 243.7h.01M397.8 259.3h.01M539.5 277.7h.01M531.3 274.0h.01M502.5 282.0h.01M442.7 296.6h.01M434.2 280.3h.01M273.7 231.2h.01M497.7 256.2h.01M446.9 241.4h.01M459.6 281.8h.01M470.3 299.1h.01M401.5 294.7h.01M278.9 153.2h.01M458.4 276.0h.01M539.1 285.3h.01M260.5 194.3h.01M353.7 276.4h.01M452.3 261.1h.01M279.4 193.3h.01M450.9 274.2h.01M502.3 300.2h.01M290.5 185.7h.01M369.9 240.6h.01M444.9 286.9h.01M441.1 289.9h.01M436.9 313.1h.01M498.4 295.1h.01M318.8 216.5h.01M499.8 256.4h.01M371.1 269.8h.01M496.4 258.3h.01M502.2 305.6h.01M295.2 170.7h.01M466.1 258.7h.01M320.5 149.4h.01M418.5 245.0h.01M265.3 209.0h.01M518.1 298.1h.01M323.1 240.8h.01M483.6 260.6h.01M445.2 292.5h.01M494.8 270.1h.01M415.0 277.3h.01M291.6 178.6h.01M350.0 231.2h.01M332.3 158.7h.01M541.9 256.6h.01M545.3 238.1h.01M442.2 276.7h.01M444.8 292.6h.01M369.6 241.0h.01M354.8 284.3h.01M502.6 267.2h.01M433.1 289.2h.01M524.1 267.6h.01M523.8 270.9h.01M540.0 256.7h.01M323.8 227.7h.01M422.1 305.3h.01M448.8 255.0h.01M420.4 284.3h.01M517.7 294.3h.01M372.5 233.1h.01M454.9 300.7h.01M531.3 264.7h.01M550.0 280.5h.01M402.2 256.4h.01M449.9 274.0h.01M484.5 252.6h.01M374.2 252.0h.01M274.1 189.3h.01M415.2 267.9h.01M276.6 165.7h.01M302.7 178.5h.01M480.9 281.1h.01M263.8 210.7h.01M283.9 205.3h.01M507.3 271.8h.01M419.1 293.4h.01M423.7 292.0h.01M337.7 219.6h.01M474.5 273.7h.01M280.4 144.3h.01M484.8 282.3h.01M367.7 252.0h.01M328.9 199.0h.01M530.2 268.3h.01M347.7 239.3h.01M396.0 261.0h.01M278.6 165.7h.01M355.2 213.1h.01M516.0 265.8h.01M295.0 158.3h.01M549.5 265.2h.01M350.7 232.4h.01M511.4 242.4h.01M362.1 267.5h.01M509.9 271.8h.01M446.3 293.2h.01M332.9 185.7h.01M471.2 273.0h.01M422.5 292.6h.01M291.4 134.8h.01M294.4 176.2h.01M432.7 283.8h.01M530.8 256.4h.01M509.0 248.4h.01M390.3 271.8h.01M464.9 272.4h.01M285.5 145.5h.01M300.7 155.7h.01M365.6 222.4h.01M487.3 280.7h.01M390.2 284.8h.01M263.4 222.6h.01M427.2 289.6h.01M315.6 181.1h.01M278.8 136.6h.01M478.8 264.0h.01M279.8 211.7h.01M357.7 287.3h.01M444.3 260.5h.01M506.4 250.0h.01M516.6 267.7h.01M362.1 242.9h.01M431.5 281.6h.01M397.4 259.2h.01M397.2 294.4h.01M405.8 239.4h.01M505.0 255.7h.01M378.8 275.1h.01M503.3 293.6h.01M374.6 270.7h.01M300.8 208.6h.01M305.5 232.9h.01M370.9 274.9h.01M524.3 265.6h.01M343.1 197.3h.01M402.9 271.6h.01M549.0 290.4h.01M370.4 260.6h.01M519.1 260.9h.01M351.9 235.3h.01M475.5 279.5h.01M478.7 262.9h.01M517.5 267.9h.01M534.3 259.7h.01M406.5 281.7h.01M349.3 237.8h.01M456.2 275.4h.01M264.5 184.4h.01M545.1 260.7h.01M471.1 277.5h.01M519.8 292.6h.01M498.6 263.2h.01M480.7 267.1h.01M307.3 161.3h.01M262.7 219.9h.01M538.6 276.0h.01M275.4 253.2h.01M271.0 226.7h.01M492.0 268.8h.01M513.6 255.2h.01M311.1 170.1h.01M458.1 291.7h.01M319.3 154.5h.01M333.2 215.1h.01M351.2 231.7h.01M319.0 188.6h.01M544.7 250.2h.01M310.9 238.5h.01M328.6 187.5h.01M444.4 254.2h.01M305.3 169.6h.01M502.4 263.2h.01M432.6 286.2h.01M464.4 270.0h.01M284.5 172.9h.01M408.1 283.4h.01M439.9 291.9h.01M473.3 295.1h.01M491.7 249.4h.01M260.4 217.0h.01M371.3 246.2h.01M284.3 183.0h.01M451.6 249.8h.01M289.4 173.8h.01M461.8 264.1h.01M310.4 197.1h.01M552.1 270.9h.01M449.3 276.4h.01M400.1 253.1h.01M327.9 146.4h.01M477.5 292.9h.01M266.4 193.9h.01M456.5 307.1h.01M522.4 264.1h.01M510.4 260.4h.01M363.0 261.5h.01M347.7 224.7h.01M536.0 265.3h.01M549.2 278.2h.01M448.9 293.2h.01M448.0 264.1h.01M550.3 248.5h.01M415.4 264.3h.01M277.6 165.3h.01M529.4 264.6h.01M337.7 236.3h.01M443.5 271.1h.01M389.8 276.6h.01M545.4 288.4h.01M366.5 275.6h.01M437.1 278.9h.01M295.7 191.1h.01M356.4 275.5h.01M522.9 236.2h.01M473.5 278.6h.01M314.1 172.9h.01M547.2 289.6h.01M260.5 201.3h.01M274.3 213.4h.01M480.8 249.8h.01M501.9 261.5h.01M291.2 160.2h.01M270.9 182.9h.01M428.1 301.3h.01M537.7 260.7h.01M495.0 258.0h.01M392.6 275.6h.01M420.9 308.6h.01M290.4 183.6h.01M466.7 270.5h.01M350.6 248.9h.01M545.8 279.2h.01M505.5 257.7h.01M271.9 179.4h.01M362.3 296.4h.01M357.2 234.3h.01M446.7 278.7h.01M317.9 222.3h.01M546.3 235.8h.01M364.3 270.6h.01M485.0 264.6h.01M537.9 240.5h.01M451.7 280.6h.01M486.5 245.9h.01M488.9 249.6h.01M496.8 237.1h.01M432.0 281.7h.01M523.7 285.4h.01M537.8 281.4h.01M409.2 266.5h.01M326.8 181.4h.01M529.0 273.2h.01M353.4 278.2h.01M515.0 285.6h.01M331.2 184.8h.01M297.3 169.6h.01M268.7 237.0h.01M471.6 262.8h.01M411.8 290.8h.01M300.2 241.9h.01M494.3 256.6h.01M501.2 261.2h.01M328.6 220.7h.01M485.5 283.5h.01M371.5 284.8h.01M377.8 244.3h.01M381.2 261.9h.01M377.1 265.3h.01M378.6 275.3h.01M359.7 250.3h.01M447.2 275.8h.01M496.9 278.6h.01M338.8 188.0h.01M424.7 284.7h.01M275.4 210.6h.01M454.4 287.4h.01M388.6 270.2h.01M549.3 281.0h.01M514.3 245.0h.01M527.7 263.0h.01M523.9 251.3h.01M404.1 273.3h.01M441.3 291.3h.01M493.6 229.0h.01M367.6 241.4h.01M391.6 296.4h.01M377.6 282.0h.01M293.4 182.2h.01M457.1 296.5h.01M306.2 170.0h.01M412.9 269.9h.01M408.2 244.3h.01M521.4 265.1h.01M498.4 258.2h.01M480.9 278.9h.01M447.2 250.9h.01M326.1 147.5h.01M316.1 207.7h.01M281.0 161.8h.01M357.9 224.0h.01M338.6 207.2h.01M400.9 275.0h.01M380.3 252.0h.01M310.1 198.3h.01M462.1 280.9h.01M313.5 161.6h.01M268.5 183.9h.01M317.2 169.4h.01M506.3 261.3h.01M499.2 278.3h.01M396.6 254.9h.01M514.4 280.7h.01M523.4 256.9h.01M309.2 194.5h.01M471.5 306.0h.01M269.1 171.3h.01M413.7 277.9h.01M483.7 255.4h.01M536.6 274.6h.01M519.7 296.0h.01M278.7 230.5h.01M433.1 304.0h.01M495.8 275.0h.01M394.8 276.3h.01M420.2 281.4h.01M406.6 245.0h.01M269.3 185.0h.01M264.3 196.3h.01M538.4 257.9h.01M486.1 243.7h.01M401.8 250.9h.01M515.7 246.0h.01M307.5 235.3h.01M395.9 282.6h.01M400.2 274.5h.01M506.8 254.1h.01M377.8 244.0h.01M378.8 250.5h.01M416.5 279.8h.01M411.9 252.8h.01M462.8 255.8h.01M283.7 190.9h.01M537.3 246.8h.01M441.7 281.4h.01M379.4 251.6h.01M317.4 182.5h.01M319.2 213.8h.01M456.5 312.2h.01M359.5 303.8h.01M307.7 199.5h.01M315.7 163.2h.01M474.8 262.7h.01M364.5 245.3h.01M528.4 270.8h.01M432.6 269.7h.01M260.8 206.3h.01M281.9 179.7h.01M402.9 272.4h.01M377.2 267.7h.01M260.3 198.4h.01M541.3 259.7h.01M267.2 204.5h.01M505.0 282.7h.01M295.6 148.1h.01M466.7 272.9h.01M316.1 210.7h.01M463.1 300.2h.01M416.2 257.5h.01M303.8 207.7h.01M391.3 296.6h.01M447.2 286.0h.01M465.5 247.7h.01M495.8 260.0h.01M458.6 303.7h.01M412.2 257.4h.01M313.8 197.9h.01M348.6 223.9h.01M315.6 214.6h.01M304.7 205.3h.01M297.0 201.4h.01M470.0 280.3h.01M288.6 204.3h.01M276.9 239.8h.01M265.4 202.1h.01M548.8 270.5h.01M407.2 270.0h.01M314.0 196.0h.01M267.7 231.0h.01M504.9 264.0h.01M444.2 298.7h.01M387.5 261.4h.01M297.2 235.7h.01M286.3 202.0h.01M553.0 283.2h.01M438.8 275.3h.01M439.0 294.4h.01M280.8 174.2h.01M467.6 269.8h.01M313.3 235.3h.01M290.0 125.3h.01M303.1 167.5h.01M380.5 240.2h.01M421.6 290.7h.01M533.7 290.3h.01M544.3 288.0h.01M456.9 267.4h.01M411.8 289.9h.01M425.9 286.7h.01M517.5 281.4h.01M338.3 257.4h.01M506.7 253.0h.01M363.8 268.4h.01M325.5 203.1h.01M382.1 284.5h.01M542.0 258.1h.01M542.5 277.9h.01M345.6 195.6h.01M458.3 276.7h.01M489.7 247.0h.01M379.4 262.1h.01M394.7 308.2h.01M454.8 314.5h.01M331.0 222.1h.01M368.7 248.9h.01M346.7 229.8h.01M346.9 222.1h.01M472.0 257.5h.01M414.7 274.7h.01M479.5 289.7h.01M306.3 163.8h.01M323.2 149.7h.01M294.6 165.6h.01M488.5 265.9h.01M297.5 237.5h.01M439.7 322.4h.01M305.7 190.0h.01M461.3 283.6h.01M330.4 199.2h.01M431.9 267.9h.01M500.1 277.5h.01M272.0 201.9h.01M375.1 279.9h.01M371.5 251.1h.01M283.1 191.8h.01M399.9 291.1h.01M530.4 255.3h.01M290.6 186.2h.01M524.5 253.0h.01M346.8 229.2h.01M454.0 290.8h.01M454.3 295.7h.01M551.3 271.2h.01M424.5 296.4h.01M348.2 252.0h.01M360.3 236.0h.01M519.9 287.7h.01M385.4 269.5h.01M492.1 273.3h.01M481.1 274.7h.01M346.8 203.9h.01M338.3 184.6h.01M372.2 278.5h.01M475.1 265.5h.01M315.8 251.9h.01M511.9 279.4h.01M402.8 247.6h.01M348.5 256.5h.01M329.5 176.4h.01M452.2 262.0h.01M536.9 292.1h.01M466.2 264.3h.01M356.5 277.5h.01M295.7 205.0h.01M453.3 282.9h.01M449.8 268.0h.01M450.1 272.1h.01M306.3 202.9h.01M409.0 257.1h.01M518.9 289.7h.01M394.8 269.2h.01M480.0 266.6h.01M359.0 246.1h.01M379.8 285.0h.01M288.0 131.6h.01M379.5 255.0h.01M551.1 260.1h.01M481.7 288.7h.01M548.3 248.2h.01M356.4 279.2h.01M524.1 257.0h.01M286.6 157.7h.01M501.3 295.3h.01M308.1 196.6h.01M276.1 153.6h.01M551.0 272.5h.01M521.1 298.3h.01M361.5 276.0h.01M448.5 278.0h.01M498.4 258.0h.01M386.8 260.9h.01M403.2 233.2h.01M522.5 255.3h.01M424.7 292.7h.01M425.2 269.3h.01M291.4 161.6h.01M339.8 250.0h.01M334.9 223.0h.01M303.7 178.4h.01M328.7 154.5h.01M506.2 257.4h.01M309.6 227.8h.01M514.2 263.4h.01M533.5 258.5h.01M335.2 212.2h.01M521.9 286.9h.01M278.1 219.5h.01M342.8 250.7h.01M515.1 246.0h.01M446.2 257.5h.01M439.2 300.1h.01M449.9 266.8h.01M424.4 303.3h.01M459.9 288.1h.01M476.9 286.8h.01M436.9 306.0h.01M362.4 235.9h.01M495.7 261.3h.01M485.5 284.9h.01M430.9 306.2h.01M300.0 176.7h.01M485.2 234.6h.01M433.7 281.7h.01M489.9 277.8h.01M280.5 185.2h.01M462.6 291.7h.01M525.5 259.0h.01M515.8 267.6h.01M336.2 256.9h.01M445.9 253.5h.01M523.1 261.1h.01M370.0 289.8h.01M476.4 258.3h.01M381.6 255.3h.01M317.7 187.2h.01M475.8 264.7h.01M375.9 285.8h.01M388.8 276.3h.01M492.8 251.2h.01M331.1 210.9h.01M330.4 178.6h.01M476.4 309.2h.01M261.9 181.6h.01M493.8 259.5h.01M368.0 236.7h.01M342.7 232.4h.01M304.0 194.6h.01M494.9 267.1h.01M451.8 266.9h.01M502.5 287.6h.01M524.3 261.4h.01M535.3 250.3h.01M312.9 213.0h.01M292.3 168.6h.01M448.9 278.6h.01M504.4 266.1h.01M464.4 252.0h.01M358.8 250.3h.01M371.1 271.5h.01M496.6 298.5h.01M550.5 255.1h.01M325.9 211.0h.01M496.3 254.5h.01M419.1 286.5h.01M480.0 279.8h.01M546.3 278.7h.01M275.4 160.9h.01M482.6 285.1h.01M454.6 283.5h.01M304.4 228.1h.01M514.2 247.7h.01M408.8 269.0h.01M532.0 262.0h.01M412.4 277.4h.01M393.0 268.7h.01M399.3 272.5h.01M411.7 283.2h.01M314.9 237.2h.01M438.5 313.4h.01M366.1 268.7h.01M455.5 285.9h.01M501.7 254.0h.01M318.8 239.5h.01M323.5 243.5h.01M366.6 247.6h.01M547.9 266.0h.01M482.9 284.7h.01M351.6 261.3h.01M323.5 176.9h.01M401.6 291.8h.01M465.8 291.1h.01M430.9 278.8h.01M288.1 156.0h.01M514.4 289.1h.01M340.0 215.7h.01M429.1 306.1h.01M535.5 270.1h.01M504.8 259.3h.01M293.7 159.3h.01M314.5 212.2h.01M394.4 280.7h.01M269.5 159.8h.01M356.5 270.8h.01M549.6 253.8h.01M288.3 179.4h.01M470.5 277.7h.01M395.1 271.9h.01M284.3 189.9h.01M307.5 230.3h.01M542.3 243.1h.01M375.2 290.5h.01M486.4 293.8h.01M538.5 241.8h.01M391.1 244.4h.01M321.6 153.1h.01M394.8 243.3h.01M455.6 287.4h.01M487.6 269.9h.01M543.7 275.5h.01M373.1 274.6h.01M369.1 281.3h.01M537.2 265.3h.01M372.6 290.4h.01M371.9 260.0h.01M291.3 128.3h.01M443.2 288.7h.01M465.2 293.9h.01M389.6 253.1h.01M494.1 291.3h.01M319.9 220.1h.01M493.3 266.4h.01M347.7 235.3h.01M279.9 148.4h.01M532.7 269.6h.01M316.5 242.8h.01M416.1 259.5h.01M312.7 197.8h.01M548.7 249.1h.01M426.0 315.5h.01M433.3 264.3h.01M486.1 255.3h.01M529.2 254.7h.01M542.0 267.7h.01M488.2 262.5h.01M337.5 233.6h.01M323.6 217.6h.01M487.8 273.8h.01M465.5 291.9h.01M314.7 244.7h.01M387.0 265.5h.01M314.0 231.9h.01M425.0 289.8h.01M434.4 282.1h.01M266.8 175.1h.01M529.6 270.0h.01M506.0 260.4h.01M546.6 294.6h.01M318.3 209.1h.01M466.2 248.7h.01M541.9 259.4h.01M381.8 245.4h.01M521.9 275.5h.01M402.3 260.1h.01M328.8 164.7h.01M494.5 267.1h.01M472.1 279.9h.01M350.2 247.9h.01M543.2 240.3h.01M469.0 272.4h.01M544.9 268.0h.01M270.9 198.8h.01M495.6 257.1h.01M328.7 197.4h.01M373.7 237.7h.01M337.8 260.0h.01M536.7 259.6h.01M429.9 272.5h.01M363.2 245.3h.01M305.7 180.0h.01M370.4 247.6h.01M466.2 288.6h.01M357.3 302.3h.01M410.9 246.8h.01M428.3 269.0h.01M444.5 270.0h.01M326.9 232.1h.01M428.1 319.5h.01M498.7 259.2h.01M271.8 237.9h.01M291.4 179.7h.01M340.4 246.5h.01M324.5 199.8h.01M432.3 298.5h.01M448.4 275.2h.01M320.2 217.3h.01M472.4 294.4h.01M536.8 292.1h.01M352.2 226.6h.01M346.7 239.7h.01M310.7 198.9h.01M311.9 238.3h.01M443.0 282.5h.01M350.4 250.1h.01M460.6 287.2h.01M478.4 256.9h.01M369.1 223.7h.01M536.7 265.7h.01M462.2 294.5h.01M299.8 220.8h.01M448.9 270.6h.01M425.5 287.3h.01M535.4 273.9h.01M325.0 180.2h.01M551.0 275.7h.01M500.9 267.4h.01M366.7 247.6h.01M542.1 265.2h.01M332.0 219.1h.01M385.6 256.8h.01M368.8 264.6h.01M494.0 266.5h.01M506.3 237.3h.01M342.2 240.2h.01M361.4 292.8h.01M266.1 158.4h.01M481.7 269.8h.01M378.5 274.8h.01M413.5 286.4h.01M431.3 275.5h.01M428.0 290.1h.01M450.1 256.6h.01M410.2 261.2h.01M391.7 290.5h.01M413.0 278.4h.01M347.4 219.6h.01M334.6 242.3h.01M317.7 241.3h.01M361.5 296.5h.01M269.9 204.6h.01M443.6 279.4h.01M500.0 290.3h.01M480.4 303.7h.01M345.1 203.4h.01M458.3 279.1h.01M509.4 248.9h.01M402.7 253.4h.01M367.9 257.1h.01M408.9 276.2h.01M444.2 302.7h.01M413.8 261.6h.01M349.3 246.6h.01M407.0 273.2h.01M365.8 227.6h.01M279.1 223.6h.01M303.4 158.6h.01M300.7 202.3h.01M340.1 216.6h.01M446.1 257.5h.01M341.0 202.4h.01M383.7 272.2h.01M308.9 180.8h.01M506.7 289.8h.01M437.8 271.6h.01M455.4 296.3h.01M378.2 249.3h.01M469.8 316.5h.01M398.9 275.2h.01M429.9 267.9h.01M281.0 171.3h.01M519.1 280.4h.01M386.4 277.2h.01M411.3 254.1h.01M328.2 231.8h.01M351.1 194.8h.01M365.9 231.8h.01M384.1 249.6h.01M505.2 234.8h.01M441.6 291.1h.01M369.7 279.9h.01M502.0 255.2h.01M466.4 250.6h.01M424.8 278.1h.01M545.9 272.1h.01M478.3 284.5h.01M422.7 294.2h.01M308.1 198.4h.01M504.5 276.1h.01M501.1 299.6h.01M417.7 288.6h.01M497.5 241.2h.01M508.3 268.6h.01M287.0 200.9h.01M402.3 266.2h.01M464.6 283.7h.01M422.8 303.3h.01M435.6 273.9h.01M311.7 236.9h.01M465.9 265.6h.01M373.0 236.0h.01M265.2 176.7h.01M314.9 158.0h.01M455.2 296.3h.01M277.2 169.2h.01M342.3 225.7h.01M327.4 212.2h.01M402.4 285.5h.01M431.2 299.2h.01M279.5 137.3h.01M279.6 144.5h.01M494.0 254.6h.01M349.7 201.8h.01M402.3 274.4h.01M408.0 243.3h.01M484.2 274.3h.01M443.8 257.3h.01M521.0 261.2h.01M268.9 198.2h.01M353.2 243.7h.01M391.8 271.2h.01M313.8 195.8h.01M273.9 198.6h.01M445.4 258.3h.01M543.6 265.8h.01M420.9 275.0h.01M420.7 251.8h.01M277.6 170.4h.01M418.4 281.6h.01M342.6 185.0h.01M494.5 242.3h.01M267.1 228.8h.01M459.2 299.4h.01M400.2 282.8h.01M489.2 240.7h.01M381.7 272.9h.01M546.6 268.5h.01M328.4 195.1h.01M484.3 273.1h.01M284.2 148.5h.01M315.9 207.1h.01M503.0 283.4h.01M455.8 315.0h.01M351.7 236.7h.01M280.3 182.6h.01M480.7 266.2h.01M298.6 179.1h.01M440.7 299.6h.01M371.2 259.2h.01M491.2 241.7h.01M399.7 275.6h.01M433.8 276.6h.01M298.1 156.3h.01M352.8 236.8h.01M481.3 293.0h.01M547.5 270.2h.01M424.6 302.2h.01M299.7 199.6h.01M306.3 195.4h.01M281.3 134.1h.01M486.4 253.6h.01M463.4 276.2h.01M418.0 254.2h.01M453.4 303.1h.01M448.4 288.6h.01M362.2 255.1h.01M491.8 281.6h.01M406.9 267.5h.01M348.7 238.5h.01M510.1 287.8h.01M539.9 266.3h.01M311.7 240.4h.01M420.4 299.5h.01M520.5 252.5h.01M350.6 230.0h.01M465.2 275.2h.01M331.5 203.2h.01M548.7 272.5h.01M428.0 295.0h.01M290.6 148.7h.01M490.9 280.2h.01M489.4 250.6h.01M365.9 269.6h.01M352.4 244.2h.01M329.8 231.3h.01M407.7 252.1h.01M273.9 185.3h.01M332.6 246.0h.01M328.3 186.7h.01M382.4 256.6h.01M449.8 297.2h.01M330.9 154.6h.01M349.3 233.1h.01M518.6 262.2h.01M364.3 282.5h.01M405.9 266.4h.01M479.9 262.9h.01M362.0 251.8h.01M521.7 275.1h.01M464.5 258.3h.01M424.0 287.7h.01M359.1 227.3h.01M375.1 264.6h.01M455.6 277.0h.01M268.3 169.4h.01M432.0 280.3h.01M331.0 141.8h.01M377.3 264.3h.01M276.3 193.9h.01M298.2 174.4h.01M321.7 156.5h.01M517.7 271.0h.01M432.6 282.3h.01M392.9 265.6h.01M443.4 267.2h.01M431.2 283.9h.01M278.4 238.0h.01M320.7 231.2h.01M394.4 284.7h.01M396.5 279.1h.01M405.6 267.4h.01M281.5 175.6h.01M440.9 303.1h.01M430.5 299.5h.01M399.1 280.4h.01M462.1 263.4h.01M519.3 248.5h.01M443.0 304.2h.01M357.5 229.2h.01M338.2 245.7h.01M509.3 270.4h.01M341.3 233.3h.01M537.0 270.1h.01M279.0 142.1h.01M385.5 262.7h.01M378.3 265.0h.01M267.4 159.5h.01M521.6 257.6h.01M355.3 263.6h.01M512.9 291.1h.01M355.4 227.8h.01M362.8 267.2h.01M454.9 258.3h.01M368.5 270.3h.01M494.6 252.2h.01M445.1 250.7h.01M392.8 286.9h.01M426.4 310.7h.01M320.9 191.6h.01M373.7 293.5h.01M300.8 170.3h.01M386.6 238.0h.01M378.9 265.5h.01M376.9 259.3h.01M407.1 273.7h.01M535.4 243.4h.01M266.9 174.6h.01M463.8 270.2h.01M434.3 299.5h.01M511.8 272.4h.01M496.7 298.3h.01M447.6 295.0h.01M415.7 285.9h.01M327.6 198.8h.01M540.9 238.4h.01M541.5 253.0h.01M408.5 258.7h.01M331.4 231.7h.01M549.8 261.2h.01M535.5 267.2h.01M413.0 248.4h.01M266.1 181.2h.01M348.6 204.0h.01M326.5 210.7h.01M327.0 160.0h.01M336.3 234.3h.01M351.7 244.6h.01M402.2 239.7h.01M411.1 275.1h.01M462.0 279.8h.01M429.7 284.7h.01M493.4 238.2h.01M496.3 234.5h.01M360.8 240.1h.01M300.3 194.1h.01M436.5 292.7h.01M280.9 172.5h.01M328.7 178.3h.01M339.3 206.1h.01M526.0 282.7h.01M359.6 271.5h.01M444.1 287.3h.01M364.6 287.6h.01M377.4 271.4h.01M424.9 290.1h.01M368.0 268.4h.01M504.8 279.8h.01M294.4 178.9h.01M343.9 223.4h.01M501.1 289.8h.01M519.3 266.2h.01M438.5 288.5h.01M542.2 241.9h.01M400.7 237.9h.01M309.7 164.8h.01M521.3 287.0h.01M550.0 251.2h.01M454.3 309.0h.01M534.0 265.5h.01M417.3 267.2h.01M297.5 203.2h.01M268.9 185.2h.01M482.0 295.2h.01M272.0 194.4h.01M460.9 283.5h.01M421.8 258.7h.01M529.6 271.5h.01M469.9 315.9h.01M325.6 173.9h.01M375.1 281.1h.01M348.3 218.6h.01M461.2 278.9h.01M444.2 270.7h.01M292.0 180.7h.01M293.3 169.1h.01M268.5 227.0h.01M511.8 289.8h.01M422.0 289.7h.01M477.4 280.9h.01M299.8 236.9h.01M427.2 279.4h.01M523.8 266.0h.01M339.9 197.7h.01M398.9 237.4h.01M470.3 257.0h.01M372.0 251.4h.01M370.0 280.9h.01M313.2 196.3h.01M426.6 307.5h.01M476.4 310.6h.01M309.1 157.4h.01M343.8 253.5h.01M507.7 234.6h.01M479.6 295.1h.01M511.4 262.7h.01M442.4 259.3h.01M317.0 248.2h.01M547.4 252.4h.01M279.6 224.6h.01M479.6 264.7h.01M399.4 251.6h.01M474.0 301.6h.01M351.5 237.8h.01M535.3 242.7h.01M322.6 202.8h.01M309.5 197.7h.01M355.3 264.3h.01M332.0 161.8h.01M385.2 276.6h.01M471.3 244.1h.01M275.1 195.5h.01M488.5 256.4h.01M517.6 279.9h.01M283.4 175.9h.01M477.4 267.8h.01M439.1 294.2h.01M430.4 261.0h.01M314.2 169.2h.01M443.6 300.8h.01M537.2 270.7h.01M288.5 162.8h.01M338.0 243.9h.01M401.3 251.3h.01M308.5 165.7h.01M326.2 177.9h.01M500.4 267.3h.01M500.3 276.9h.01M468.9 286.0h.01M334.4 185.7h.01M540.1 241.3h.01M389.4 278.4h.01M393.0 295.2h.01M497.3 249.7h.01M269.7 145.3h.01M382.4 257.6h.01M278.3 162.7h.01M400.5 246.8h.01M530.9 273.6h.01M497.7 266.3h.01M362.4 273.0h.01M552.9 248.1h.01M413.0 291.0h.01M512.4 266.8h.01M430.4 278.3h.01M453.2 262.1h.01M446.2 259.4h.01M336.8 198.5h.01M503.1 281.0h.01M421.8 300.4h.01M360.8 240.9h.01M494.4 248.8h.01M291.6 144.5h.01M388.6 263.3h.01M427.3 302.2h.01M411.7 246.0h.01M292.0 185.9h.01M287.0 175.8h.01M276.4 224.2h.01M352.0 252.0h.01M304.4 207.9h.01M369.8 241.8h.01M280.3 193.4h.01M539.3 244.9h.01M525.0 281.9h.01M441.2 265.2h.01M368.8 258.2h.01M549.7 264.3h.01M414.7 278.2h.01M329.2 202.8h.01M411.4 259.9h.01M512.2 246.4h.01M477.2 298.5h.01M375.7 266.5h.01M500.7 263.3h.01M437.9 274.4h.01M263.3 171.7h.01M268.4 149.6h.01M521.5 287.0h.01M309.3 218.3h.01M468.5 292.5h.01M388.4 275.6h.01M347.9 246.9h.01M539.8 283.4h.01M497.8 246.0h.01M462.9 273.8h.01M491.5 276.1h.01M439.2 303.7h.01M542.0 268.1h.01M359.7 254.7h.01M359.3 300.6h.01M545.4 281.4h.01M475.2 294.9h.01M332.4 192.9h.01M515.4 261.9h.01M318.5 218.4h.01M362.7 294.7h.01M538.3 238.1h.01M545.0 257.9h.01M421.9 312.2h.01M531.2 277.2h.01M437.1 284.6h.01M530.0 287.4h.01M398.4 273.7h.01M271.9 183.0h.01M364.8 251.7h.01M498.8 264.1h.01M334.7 215.1h.01M283.9 169.6h.01M505.5 250.8h.01M264.1 179.7h.01M342.5 210.4h.01M488.6 281.3h.01M449.3 282.4h.01M542.1 249.3h.01M288.0 180.4h.01M431.3 304.9h.01M260.5 221.6h.01M277.2 221.3h.01M500.7 278.8h.01M382.6 264.4h.01M308.4 234.1h.01M264.8 178.1h.01M546.6 299.5h.01M346.2 222.6h.01M360.0 224.3h.01M274.8 178.7h.01M467.0 302.0h.01M444.5 303.6h.01M522.5 263.5h.01M536.1 233.4h.01M552.5 263.8h.01M468.3 279.8h.01M465.1 242.3h.01M515.5 254.5h.01M326.8 173.3h.01M425.6 276.2h.01M531.9 247.1h.01M346.1 236.2h.01M519.0 275.6h.01M374.7 258.0h.01M346.5 225.3h.01M356.9 270.0h.01M421.5 308.4h.01M528.0 271.2h.01M404.2 244.8h.01M441.2 282.6h.01M507.7 272.5h.01M351.3 255.2h.01M455.0 267.4h.01M519.2 271.8h.01M428.7 278.1h.01M267.7 204.4h.01M326.6 172.6h.01M362.4 294.5h.01M284.9 184.8h.01M472.0 244.6h.01M430.1 273.0h.01M302.9 207.2h.01M324.1 165.8h.01M373.2 304.8h.01M534.7 270.0h.01M448.0 266.6h.01M424.8 309.8h.01M444.1 289.5h.01M299.6 199.5h.01M401.8 281.4h.01M381.8 263.9h.01M440.5 313.7h.01M535.4 262.6h.01M335.8 239.5h.01M286.7 182.9h.01M447.4 246.8h.01M435.5 287.8h.01M379.5 286.4h.01M526.1 269.0h.01M341.3 236.4h.01M357.7 235.2h.01M324.2 233.7h.01M270.5 236.7h.01M263.4 172.7h.01M446.6 248.1h.01M295.5 167.8h.01M512.8 256.9h.01M412.4 262.8h.01M497.2 248.1h.01M283.2 157.3h.01M438.1 326.7h.01M262.2 197.5h.01M414.1 296.2h.01M363.0 234.1h.01M515.9 250.2h.01M266.4 193.1h.01M504.1 253.4h.01M356.5 267.4h.01M406.4 241.8h.01M445.8 264.3h.01M427.4 296.0h.01M394.5 270.8h.01M429.5 308.8h.01M385.2 280.2h.01M533.1 266.0h.01M359.7 270.4h.01M297.9 256.0h.01M416.2 282.8h.01M490.1 235.5h.01M413.9 271.9h.01M539.0 254.2h.01M310.0 207.3h.01M358.9 297.4h.01M326.5 214.4h.01M374.1 271.6h.01M309.6 176.5h.01M296.4 178.8h.01M322.9 207.9h.01M536.2 275.7h.01M437.1 281.7h.01M273.8 226.0h.01M308.4 231.4h.01M445.1 270.8h.01M495.1 294.3h.01M445.4 247.6h.01M517.2 283.7h.01M306.7 204.3h.01M510.2 271.1h.01M522.9 247.6h.01M433.1 301.5h.01M524.7 271.7h.01M538.8 254.6h.01M405.7 233.4h.01M525.9 264.3h.01M321.5 173.0h.01M435.4 277.5h.01M450.9 252.1h.01M401.8 270.1h.01M330.9 158.2h.01M383.1 274.4h.01M356.7 248.3h.01M548.3 285.3h.01M438.9 279.2h.01M285.2 188.5h.01M308.7 214.7h.01M458.2 273.1h.01M289.2 171.3h.01M501.6 290.6h.01M310.1 216.8h.01M493.3 231.2h.01M386.0 271.6h.01M357.5 293.4h.01M311.4 240.0h.01M352.9 261.1h.01M525.4 276.9h.01M362.3 277.0h.01M546.0 298.8h.01M441.7 288.5h.01M262.3 209.5h.01M523.2 241.5h.01M488.8 288.9h.01M519.8 298.0h.01M308.6 184.3h.01M382.4 271.7h.01M364.4 238.2h.01M339.5 219.4h.01M393.4 271.5h.01M496.6 288.1h.01M541.8 236.5h.01M364.6 234.2h.01M514.5 272.6h.01M369.4 271.1h.01M322.4 210.6h.01M417.3 274.3h.01M401.7 266.9h.01M396.0 271.7h.01M503.8 270.7h.01M308.7 171.8h.01M333.3 179.1h.01M446.0 259.0h.01M358.2 272.1h.01M496.0 260.0h.01M300.6 177.3h.01M525.5 253.8h.01M309.0 237.7h.01M436.2 273.7h.01M464.6 258.0h.01M520.6 259.4h.01M481.0 296.7h.01M444.9 311.6h.01M264.5 203.3h.01M273.0 238.6h.01M492.3 236.2h.01M400.4 297.5h.01M385.2 264.9h.01M464.3 281.4h.01M530.2 268.1h.01M304.8 200.3h.01M413.3 263.5h.01M548.7 269.8h.01M521.4 256.5h.01M364.2 260.2h.01M463.0 294.6h.01M528.9 270.2h.01M354.4 242.4h.01M368.9 225.8h.01M530.2 250.3h.01M307.1 184.9h.01M473.8 298.9h.01M374.9 288.8h.01M538.2 264.1h.01M432.1 285.2h.01M484.4 244.9h.01M310.9 210.5h.01M270.6 155.4h.01M362.5 269.1h.01M536.1 253.5h.01M313.8 192.9h.01M521.8 287.1h.01M388.1 252.2h.01M542.7 287.0h.01M260.9 222.5h.01M374.7 271.3h.01M394.9 250.4h.01M311.3 218.2h.01M437.8 314.1h.01M386.0 266.6h.01M371.9 240.3h.01M376.4 276.2h.01M487.9 278.5h.01M331.5 205.5h.01M474.2 257.5h.01M445.1 248.7h.01M307.8 235.2h.01M304.5 168.3h.01M458.8 278.6h.01M355.6 284.3h.01M391.9 240.8h.01M491.1 261.9h.01M386.2 274.0h.01M482.3 261.7h.01M309.6 179.8h.01M542.0 257.4h.01M291.6 201.8h.01M303.5 214.1h.01M309.3 212.9h.01M478.7 260.7h.01M523.1 260.8h.01M517.9 264.7h.01M415.3 285.8h.01M106.0 232.0h.01M105.5 244.5h.01M120.5 246.0h.01M121.0 249.5h.01M135.0 123.0h.01M132.5 127.0h.01M133.0 132.5h.01M133.0 139.0h.01M133.0 145.0h.01M136.0 262.5h.01M136.0 269.0h.01M137.5 274.5h.01M141.0 274.5h.01M135.0 284.0h.01M149.0 261.0h.01M162.0 272.5h.01M161.0 276.0h.01M159.0 281.0h.01M172.5 257.5h.01M177.5 260.5h.01M179.0 267.0h.01M185.0 271.0h.01M173.0 283.0h.01M186.2 317.5h.01M195.0 292.5h.01M200.0 294.0h.01M216.0 282.5h.01M214.0 285.0h.01M214.0 294.5h.01M225.0 270.0h.01M234.0 276.0h.01M242.5 251.0h.01M106.0 141.0h.01M108.8 146.2h.01M114.5 138.0h.01M117.5 139.5h.01M124.0 143.0h.01M126.0 151.0h.01M146.0 166.0h.01M148.0 165.0h.01M155.5 159.5h.01M167.5 163.0h.01M178.0 159.0h.01M205.5 161.0h.01M209.0 166.0h.01M211.0 169.0h.01M229.0 158.0h.01M226.0 166.0h.01M240.0 159.5h.01M245.5 159.5h.01M252.5 146.2h.01M232.5 410.5h.01M286.2 74.2h.01M286.2 84.2h.01M280.5 110.5h.01M286.2 109.5h.01M290.5 117.5h.01M269.5 121.2h.01M271.2 128.2h.01M291.2 124.5h.01M291.2 128.0h.01M292.5 132.5h.01M282.5 132.5h.01M269.5 139.5h.01M277.5 136.0h.01M278.8 141.0h.01M283.8 138.8h.01M302.5 135.5h.01M305.5 143.2h.01M312.5 144.5h.01M324.5 133.2h.01M324.5 138.2h.01M331.2 137.0h.01M272.5 147.5h.01M319.5 147.5h.01M331.2 146.2h.01M338.8 173.0h.01M345.0 176.0h.01M346.0 180.0h.01M353.8 194.5h.01M367.5 210.0h.01M368.8 213.8h.01M386.0 188.0h.01M387.5 218.8h.01M258.2 259.2h.01M261.2 270.0h.01M258.2 274.5h.01M258.2 290.5h.01M266.2 252.0h.01M274.5 280.0h.01M283.2 273.2h.01M275.0 256.2h.01M298.2 261.2h.01M297.5 253.8h.01M298.0 241.2h.01M298.0 235.0h.01M308.8 248.0h.01M311.2 248.0h.01M315.0 265.8h.01M317.0 266.2h.01M318.2 288.2h.01M323.8 256.2h.01M319.5 251.2h.01M335.5 257.5h.01M337.0 263.8h.01M336.2 274.5h.01M340.5 279.2h.01M350.5 268.0h.01M351.2 273.8h.01M363.2 340.5h.01M377.0 315.0h.01M393.0 315.0h.01M357.5 288.8h.01M358.8 296.2h.01M360.0 307.5h.01M362.5 302.5h.01M320.0 289.0h.01M323.0 255.0h.01M404.5 223.0h.01M407.5 228.8h.01M420.5 232.0h.01M430.5 233.2h.01M448.0 236.0h.01M464.5 238.0h.01M472.0 240.5h.01M485.0 228.8h.01M489.5 227.5h.01M498.2 214.2h.01M493.8 225.0h.01M499.5 223.8h.01M508.0 224.0h.01M515.0 227.0h.01M523.2 233.2h.01M535.0 230.0h.01M540.0 224.5h.01M543.8 223.0h.01M551.2 238.8h.01M412.5 308.0h.01M421.0 317.0h.01M422.5 327.5h.01M425.0 333.0h.01M422.0 342.5h.01M425.0 346.0h.01M429.5 326.0h.01M439.0 332.5h.01M440.0 334.0h.01M437.5 339.5h.01M441.0 355.0h.01M458.0 327.5h.01M462.5 340.0h.01M452.5 317.5h.01M468.8 326.0h.01M477.5 322.5h.01M485.5 302.5h.01M502.5 327.0h.01M516.0 310.0h.01M518.0 303.0h.01M525.0 303.0h.01M533.8 300.0h.01M546.0 305.8h.01M553.0 292.0h.01"/></g><rect x="80.5" y="58.5" width="496" height="369" fill="none" stroke="#000" stroke-width="1.1"/><line x1="152.5" y1="427.5" x2="152.5" y2="432.4" stroke="#000" stroke-width="1.1"/><text x="152.5" y="448" text-anchor="middle" font-size="14.2" textLength="34.6" lengthAdjust="spacingAndGlyphs">2000</text><line x1="234.5" y1="427.5" x2="234.5" y2="432.4" stroke="#000" stroke-width="1.1"/><text x="234.5" y="448" text-anchor="middle" font-size="14.2" textLength="34.6" lengthAdjust="spacingAndGlyphs">2002</text><line x1="316.5" y1="427.5" x2="316.5" y2="432.4" stroke="#000" stroke-width="1.1"/><text x="316.5" y="448" text-anchor="middle" font-size="14.2" textLength="34.6" lengthAdjust="spacingAndGlyphs">2004</text><line x1="398.5" y1="427.5" x2="398.5" y2="432.4" stroke="#000" stroke-width="1.1"/><text x="398.5" y="448" text-anchor="middle" font-size="14.2" textLength="34.6" lengthAdjust="spacingAndGlyphs">2006</text><line x1="480.5" y1="427.5" x2="480.5" y2="432.4" stroke="#000" stroke-width="1.1"/><text x="480.5" y="448" text-anchor="middle" font-size="14.2" textLength="34.6" lengthAdjust="spacingAndGlyphs">2008</text><line x1="561.5" y1="427.5" x2="561.5" y2="432.4" stroke="#000" stroke-width="1.1"/><text x="561.5" y="448" text-anchor="middle" font-size="14.2" textLength="34.6" lengthAdjust="spacingAndGlyphs">2010</text><line x1="75.6" y1="69.5" x2="80.5" y2="69.5" stroke="#000" stroke-width="1.1"/><text x="69.8" y="73.8" text-anchor="end" font-size="14.2" textLength="29.0" lengthAdjust="spacingAndGlyphs">0.02</text><line x1="75.6" y1="121.5" x2="80.5" y2="121.5" stroke="#000" stroke-width="1.1"/><text x="69.8" y="125.8" text-anchor="end" font-size="14.2" textLength="29.0" lengthAdjust="spacingAndGlyphs">0.01</text><line x1="75.6" y1="174.5" x2="80.5" y2="174.5" stroke="#000" stroke-width="1.1"/><text x="69.8" y="178.8" text-anchor="end" font-size="14.2" textLength="29.0" lengthAdjust="spacingAndGlyphs">0.00</text><line x1="75.6" y1="226.5" x2="80.5" y2="226.5" stroke="#000" stroke-width="1.1"/><text x="69.8" y="230.8" text-anchor="end" font-size="14.2" textLength="41.0" lengthAdjust="spacingAndGlyphs">−0.01</text><line x1="75.6" y1="279.5" x2="80.5" y2="279.5" stroke="#000" stroke-width="1.1"/><text x="69.8" y="283.8" text-anchor="end" font-size="14.2" textLength="41.0" lengthAdjust="spacingAndGlyphs">−0.02</text><line x1="75.6" y1="331.5" x2="80.5" y2="331.5" stroke="#000" stroke-width="1.1"/><text x="69.8" y="335.8" text-anchor="end" font-size="14.2" textLength="41.0" lengthAdjust="spacingAndGlyphs">−0.03</text><line x1="75.6" y1="384.5" x2="80.5" y2="384.5" stroke="#000" stroke-width="1.1"/><text x="69.8" y="388.8" text-anchor="end" font-size="14.2" textLength="41.0" lengthAdjust="spacingAndGlyphs">−0.04</text><text x="327.5" y="49.2" text-anchor="middle" font-size="17.2" textLength="61" lengthAdjust="spacingAndGlyphs">LASC V</text><text transform="translate(20.2,244) rotate(-90)" text-anchor="middle" font-size="14.2">m</text><rect x="377.5" y="65.5" width="191.8" height="24.6" rx="2.5" fill="#fff" fill-opacity="0.8" stroke="#d6d6d6" stroke-width="1.1"/><circle cx="397.5" cy="76.5" r="2.78" fill="#f00"/><text x="426" y="80.8" font-size="14.2" textLength="138" lengthAdjust="spacingAndGlyphs">repro2018a (IGS14)</text></svg></body></html>
